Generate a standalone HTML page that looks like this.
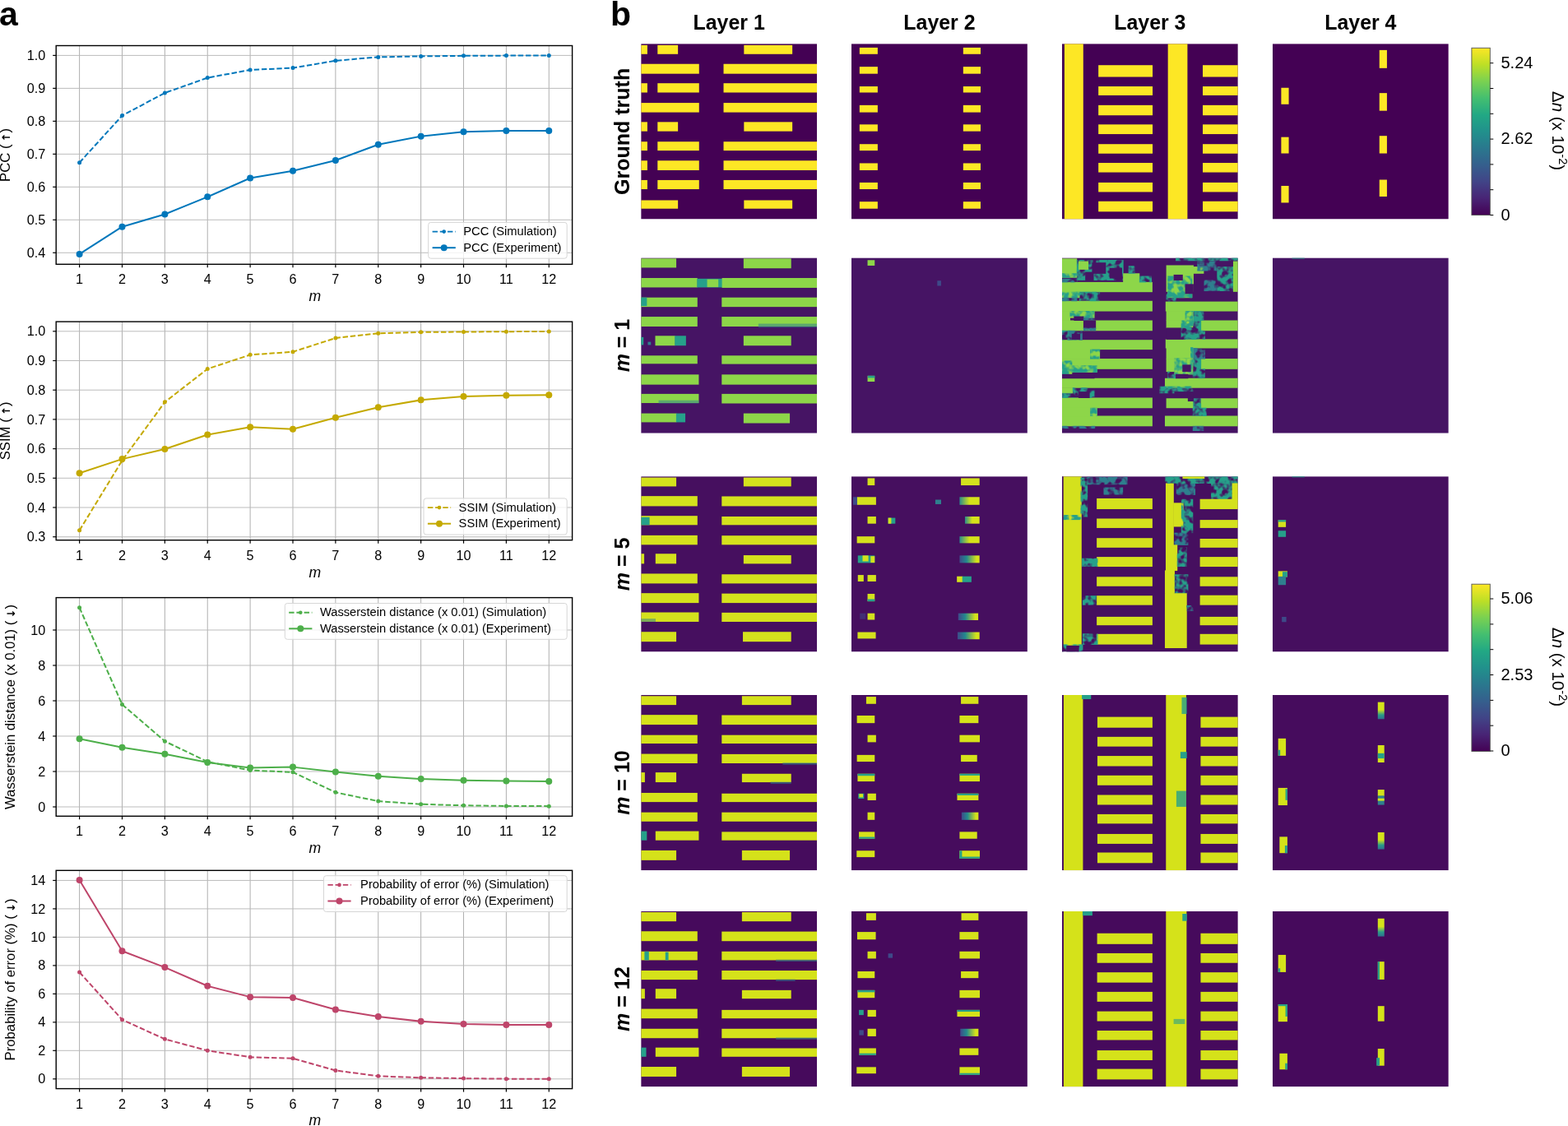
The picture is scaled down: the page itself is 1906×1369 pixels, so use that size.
<!DOCTYPE html><html><head><meta charset="utf-8"><title>Figure</title><style>
html,body{margin:0;padding:0;background:#fff;}
svg text{font-family:'Liberation Sans', sans-serif;fill:#000;}
.tick{font-size:16.2px;}
.leg{font-size:14.7px;}
.ylab{font-size:16.7px;}
.arr{font-family:"DejaVu Sans",sans-serif;font-size:13px;font-weight:bold;}
.mlab{font-size:17.6px;font-style:italic;}
.grid{stroke:#b8b8b8;stroke-width:0.95;}
.gridv{stroke:#acacac;stroke-width:0.95;}
.cbt{font-size:20px;}
.cbl{font-size:20.5px;}
.ttl{font-size:24.9px;font-weight:bold;}
.rowl{font-size:25px;font-weight:bold;}
.panel{font-size:41px;font-weight:bold;}
</style></head><body>
<svg width="1906" height="1369" viewBox="0 0 1906 1369" style="display:block">
<rect width="1906" height="1369" fill="#fff"/>
<defs><filter id="soft" x="-2%" y="-2%" width="104%" height="104%"><feGaussianBlur stdDeviation="3.2"/></filter><filter id="mottle" x="0" y="0" width="1" height="1" filterUnits="objectBoundingBox"><feTurbulence type="fractalNoise" baseFrequency="0.03" numOctaves="2" seed="7" result="n"/><feColorMatrix in="n" type="matrix" values="0 0 0 0 0  0 0 0 0 0  0 0 0 0 0  4 0 0 0 -1.3" result="m"/><feComposite in="SourceGraphic" in2="m" operator="in" result="c"/><feGaussianBlur in="c" stdDeviation="3"/></filter><linearGradient id="gTY" x1="0" y1="0" x2="1" y2="0"><stop offset="0" stop-color="#2a8c8d"/><stop offset="0.5" stop-color="#d5e21a"/><stop offset="1" stop-color="#d5e21a"/></linearGradient><linearGradient id="gBTY" x1="0" y1="0" x2="1" y2="0"><stop offset="0" stop-color="#3e4a89"/><stop offset="0.35" stop-color="#23898e"/><stop offset="0.85" stop-color="#d5e21a"/><stop offset="1" stop-color="#d5e21a"/></linearGradient><linearGradient id="gYTv" x1="0" y1="0" x2="0" y2="1"><stop offset="0" stop-color="#d5e21a"/><stop offset="0.45" stop-color="#d5e21a"/><stop offset="0.75" stop-color="#2a9c8a"/><stop offset="1" stop-color="#2f6f8e"/></linearGradient></defs>
<g>
<line x1="96.60" y1="55.50" x2="96.60" y2="321.30" class="gridv"/>
<line x1="148.48" y1="55.50" x2="148.48" y2="321.30" class="gridv"/>
<line x1="200.36" y1="55.50" x2="200.36" y2="321.30" class="gridv"/>
<line x1="252.24" y1="55.50" x2="252.24" y2="321.30" class="gridv"/>
<line x1="304.12" y1="55.50" x2="304.12" y2="321.30" class="gridv"/>
<line x1="356.00" y1="55.50" x2="356.00" y2="321.30" class="gridv"/>
<line x1="407.88" y1="55.50" x2="407.88" y2="321.30" class="gridv"/>
<line x1="459.76" y1="55.50" x2="459.76" y2="321.30" class="gridv"/>
<line x1="511.64" y1="55.50" x2="511.64" y2="321.30" class="gridv"/>
<line x1="563.52" y1="55.50" x2="563.52" y2="321.30" class="gridv"/>
<line x1="615.40" y1="55.50" x2="615.40" y2="321.30" class="gridv"/>
<line x1="667.28" y1="55.50" x2="667.28" y2="321.30" class="gridv"/>
<line x1="68.20" y1="67.40" x2="695.60" y2="67.40" class="grid"/>
<line x1="68.20" y1="107.38" x2="695.60" y2="107.38" class="grid"/>
<line x1="68.20" y1="147.36" x2="695.60" y2="147.36" class="grid"/>
<line x1="68.20" y1="187.34" x2="695.60" y2="187.34" class="grid"/>
<line x1="68.20" y1="227.32" x2="695.60" y2="227.32" class="grid"/>
<line x1="68.20" y1="267.30" x2="695.60" y2="267.30" class="grid"/>
<line x1="68.20" y1="307.28" x2="695.60" y2="307.28" class="grid"/>
<polyline points="96.60,197.73 148.48,140.56 200.36,112.98 252.24,94.59 304.12,84.99 356.00,82.59 407.88,73.80 459.76,69.40 511.64,68.40 563.52,67.80 615.40,67.60 667.28,67.60" fill="none" stroke="#0077BB" stroke-width="2.0" stroke-dasharray="6.4 2.8" stroke-linejoin="round"/>
<circle cx="96.60" cy="197.73" r="2.5" fill="#0077BB"/>
<circle cx="148.48" cy="140.56" r="2.5" fill="#0077BB"/>
<circle cx="200.36" cy="112.98" r="2.5" fill="#0077BB"/>
<circle cx="252.24" cy="94.59" r="2.5" fill="#0077BB"/>
<circle cx="304.12" cy="84.99" r="2.5" fill="#0077BB"/>
<circle cx="356.00" cy="82.59" r="2.5" fill="#0077BB"/>
<circle cx="407.88" cy="73.80" r="2.5" fill="#0077BB"/>
<circle cx="459.76" cy="69.40" r="2.5" fill="#0077BB"/>
<circle cx="511.64" cy="68.40" r="2.5" fill="#0077BB"/>
<circle cx="563.52" cy="67.80" r="2.5" fill="#0077BB"/>
<circle cx="615.40" cy="67.60" r="2.5" fill="#0077BB"/>
<circle cx="667.28" cy="67.60" r="2.5" fill="#0077BB"/>
<polyline points="96.60,308.88 148.48,275.70 200.36,260.50 252.24,239.31 304.12,216.53 356.00,207.73 407.88,194.94 459.76,175.75 511.64,165.75 563.52,160.15 615.40,158.95 667.28,158.95" fill="none" stroke="#0077BB" stroke-width="2" stroke-linejoin="round"/>
<circle cx="96.60" cy="308.88" r="4.0" fill="#0077BB"/>
<circle cx="148.48" cy="275.70" r="4.0" fill="#0077BB"/>
<circle cx="200.36" cy="260.50" r="4.0" fill="#0077BB"/>
<circle cx="252.24" cy="239.31" r="4.0" fill="#0077BB"/>
<circle cx="304.12" cy="216.53" r="4.0" fill="#0077BB"/>
<circle cx="356.00" cy="207.73" r="4.0" fill="#0077BB"/>
<circle cx="407.88" cy="194.94" r="4.0" fill="#0077BB"/>
<circle cx="459.76" cy="175.75" r="4.0" fill="#0077BB"/>
<circle cx="511.64" cy="165.75" r="4.0" fill="#0077BB"/>
<circle cx="563.52" cy="160.15" r="4.0" fill="#0077BB"/>
<circle cx="615.40" cy="158.95" r="4.0" fill="#0077BB"/>
<circle cx="667.28" cy="158.95" r="4.0" fill="#0077BB"/>
<rect x="68.20" y="55.50" width="627.40" height="265.80" fill="none" stroke="#000" stroke-width="1.4"/>
<line x1="64.20" y1="67.40" x2="68.20" y2="67.40" stroke="#000" stroke-width="1.2"/>
<text x="55.20" y="73.00" text-anchor="end" class="tick">1.0</text>
<line x1="64.20" y1="107.38" x2="68.20" y2="107.38" stroke="#000" stroke-width="1.2"/>
<text x="55.20" y="112.98" text-anchor="end" class="tick">0.9</text>
<line x1="64.20" y1="147.36" x2="68.20" y2="147.36" stroke="#000" stroke-width="1.2"/>
<text x="55.20" y="152.96" text-anchor="end" class="tick">0.8</text>
<line x1="64.20" y1="187.34" x2="68.20" y2="187.34" stroke="#000" stroke-width="1.2"/>
<text x="55.20" y="192.94" text-anchor="end" class="tick">0.7</text>
<line x1="64.20" y1="227.32" x2="68.20" y2="227.32" stroke="#000" stroke-width="1.2"/>
<text x="55.20" y="232.92" text-anchor="end" class="tick">0.6</text>
<line x1="64.20" y1="267.30" x2="68.20" y2="267.30" stroke="#000" stroke-width="1.2"/>
<text x="55.20" y="272.90" text-anchor="end" class="tick">0.5</text>
<line x1="64.20" y1="307.28" x2="68.20" y2="307.28" stroke="#000" stroke-width="1.2"/>
<text x="55.20" y="312.88" text-anchor="end" class="tick">0.4</text>
<line x1="96.60" y1="321.30" x2="96.60" y2="325.30" stroke="#000" stroke-width="1.2"/>
<text x="96.60" y="345.20" text-anchor="middle" class="tick">1</text>
<line x1="148.48" y1="321.30" x2="148.48" y2="325.30" stroke="#000" stroke-width="1.2"/>
<text x="148.48" y="345.20" text-anchor="middle" class="tick">2</text>
<line x1="200.36" y1="321.30" x2="200.36" y2="325.30" stroke="#000" stroke-width="1.2"/>
<text x="200.36" y="345.20" text-anchor="middle" class="tick">3</text>
<line x1="252.24" y1="321.30" x2="252.24" y2="325.30" stroke="#000" stroke-width="1.2"/>
<text x="252.24" y="345.20" text-anchor="middle" class="tick">4</text>
<line x1="304.12" y1="321.30" x2="304.12" y2="325.30" stroke="#000" stroke-width="1.2"/>
<text x="304.12" y="345.20" text-anchor="middle" class="tick">5</text>
<line x1="356.00" y1="321.30" x2="356.00" y2="325.30" stroke="#000" stroke-width="1.2"/>
<text x="356.00" y="345.20" text-anchor="middle" class="tick">6</text>
<line x1="407.88" y1="321.30" x2="407.88" y2="325.30" stroke="#000" stroke-width="1.2"/>
<text x="407.88" y="345.20" text-anchor="middle" class="tick">7</text>
<line x1="459.76" y1="321.30" x2="459.76" y2="325.30" stroke="#000" stroke-width="1.2"/>
<text x="459.76" y="345.20" text-anchor="middle" class="tick">8</text>
<line x1="511.64" y1="321.30" x2="511.64" y2="325.30" stroke="#000" stroke-width="1.2"/>
<text x="511.64" y="345.20" text-anchor="middle" class="tick">9</text>
<line x1="563.52" y1="321.30" x2="563.52" y2="325.30" stroke="#000" stroke-width="1.2"/>
<text x="563.52" y="345.20" text-anchor="middle" class="tick">10</text>
<line x1="615.40" y1="321.30" x2="615.40" y2="325.30" stroke="#000" stroke-width="1.2"/>
<text x="615.40" y="345.20" text-anchor="middle" class="tick">11</text>
<line x1="667.28" y1="321.30" x2="667.28" y2="325.30" stroke="#000" stroke-width="1.2"/>
<text x="667.28" y="345.20" text-anchor="middle" class="tick">12</text>
<text x="382.90" y="365.60" text-anchor="middle" class="mlab">m</text>
<text transform="translate(12.00,188.40) rotate(-90)" text-anchor="middle" class="ylab">PCC ( <tspan class="arr" dx="-1.2">↑</tspan><tspan dx="-4.8"> )</tspan></text>
<rect x="520.70" y="270.40" width="168.50" height="43.80" rx="3" fill="#fff" fill-opacity="0.8" stroke="#d6d6d6" stroke-width="1"/>
<line x1="525.60" y1="281.60" x2="553.80" y2="281.60" stroke="#0077BB" stroke-width="1.9" stroke-dasharray="6.4 2.8"/>
<circle cx="539.70" cy="281.60" r="2.3" fill="#0077BB"/>
<line x1="525.60" y1="301.20" x2="553.80" y2="301.20" stroke="#0077BB" stroke-width="2"/>
<circle cx="539.70" cy="301.20" r="4.0" fill="#0077BB"/>
<text x="563.30" y="286.00" class="leg">PCC (Simulation)</text>
<text x="563.30" y="305.60" class="leg">PCC (Experiment)</text>
</g>
<g>
<line x1="96.60" y1="391.10" x2="96.60" y2="656.70" class="gridv"/>
<line x1="148.48" y1="391.10" x2="148.48" y2="656.70" class="gridv"/>
<line x1="200.36" y1="391.10" x2="200.36" y2="656.70" class="gridv"/>
<line x1="252.24" y1="391.10" x2="252.24" y2="656.70" class="gridv"/>
<line x1="304.12" y1="391.10" x2="304.12" y2="656.70" class="gridv"/>
<line x1="356.00" y1="391.10" x2="356.00" y2="656.70" class="gridv"/>
<line x1="407.88" y1="391.10" x2="407.88" y2="656.70" class="gridv"/>
<line x1="459.76" y1="391.10" x2="459.76" y2="656.70" class="gridv"/>
<line x1="511.64" y1="391.10" x2="511.64" y2="656.70" class="gridv"/>
<line x1="563.52" y1="391.10" x2="563.52" y2="656.70" class="gridv"/>
<line x1="615.40" y1="391.10" x2="615.40" y2="656.70" class="gridv"/>
<line x1="667.28" y1="391.10" x2="667.28" y2="656.70" class="gridv"/>
<line x1="68.20" y1="402.80" x2="695.60" y2="402.80" class="grid"/>
<line x1="68.20" y1="438.50" x2="695.60" y2="438.50" class="grid"/>
<line x1="68.20" y1="474.20" x2="695.60" y2="474.20" class="grid"/>
<line x1="68.20" y1="509.90" x2="695.60" y2="509.90" class="grid"/>
<line x1="68.20" y1="545.60" x2="695.60" y2="545.60" class="grid"/>
<line x1="68.20" y1="581.30" x2="695.60" y2="581.30" class="grid"/>
<line x1="68.20" y1="617.00" x2="695.60" y2="617.00" class="grid"/>
<line x1="68.20" y1="652.70" x2="695.60" y2="652.70" class="grid"/>
<polyline points="96.60,644.85 148.48,559.88 200.36,488.84 252.24,448.50 304.12,431.36 356.00,427.79 407.88,411.01 459.76,405.30 511.64,403.87 563.52,403.51 615.40,403.16 667.28,402.98" fill="none" stroke="#C4A900" stroke-width="2.0" stroke-dasharray="6.4 2.8" stroke-linejoin="round"/>
<circle cx="96.60" cy="644.85" r="2.5" fill="#C4A900"/>
<circle cx="148.48" cy="559.88" r="2.5" fill="#C4A900"/>
<circle cx="200.36" cy="488.84" r="2.5" fill="#C4A900"/>
<circle cx="252.24" cy="448.50" r="2.5" fill="#C4A900"/>
<circle cx="304.12" cy="431.36" r="2.5" fill="#C4A900"/>
<circle cx="356.00" cy="427.79" r="2.5" fill="#C4A900"/>
<circle cx="407.88" cy="411.01" r="2.5" fill="#C4A900"/>
<circle cx="459.76" cy="405.30" r="2.5" fill="#C4A900"/>
<circle cx="511.64" cy="403.87" r="2.5" fill="#C4A900"/>
<circle cx="563.52" cy="403.51" r="2.5" fill="#C4A900"/>
<circle cx="615.40" cy="403.16" r="2.5" fill="#C4A900"/>
<circle cx="667.28" cy="402.98" r="2.5" fill="#C4A900"/>
<polyline points="96.60,575.23 148.48,558.10 200.36,545.96 252.24,528.46 304.12,519.18 356.00,521.68 407.88,507.76 459.76,495.26 511.64,486.34 563.52,482.05 615.40,480.63 667.28,480.27" fill="none" stroke="#C4A900" stroke-width="2" stroke-linejoin="round"/>
<circle cx="96.60" cy="575.23" r="4.0" fill="#C4A900"/>
<circle cx="148.48" cy="558.10" r="4.0" fill="#C4A900"/>
<circle cx="200.36" cy="545.96" r="4.0" fill="#C4A900"/>
<circle cx="252.24" cy="528.46" r="4.0" fill="#C4A900"/>
<circle cx="304.12" cy="519.18" r="4.0" fill="#C4A900"/>
<circle cx="356.00" cy="521.68" r="4.0" fill="#C4A900"/>
<circle cx="407.88" cy="507.76" r="4.0" fill="#C4A900"/>
<circle cx="459.76" cy="495.26" r="4.0" fill="#C4A900"/>
<circle cx="511.64" cy="486.34" r="4.0" fill="#C4A900"/>
<circle cx="563.52" cy="482.05" r="4.0" fill="#C4A900"/>
<circle cx="615.40" cy="480.63" r="4.0" fill="#C4A900"/>
<circle cx="667.28" cy="480.27" r="4.0" fill="#C4A900"/>
<rect x="68.20" y="391.10" width="627.40" height="265.60" fill="none" stroke="#000" stroke-width="1.4"/>
<line x1="64.20" y1="402.80" x2="68.20" y2="402.80" stroke="#000" stroke-width="1.2"/>
<text x="55.20" y="408.40" text-anchor="end" class="tick">1.0</text>
<line x1="64.20" y1="438.50" x2="68.20" y2="438.50" stroke="#000" stroke-width="1.2"/>
<text x="55.20" y="444.10" text-anchor="end" class="tick">0.9</text>
<line x1="64.20" y1="474.20" x2="68.20" y2="474.20" stroke="#000" stroke-width="1.2"/>
<text x="55.20" y="479.80" text-anchor="end" class="tick">0.8</text>
<line x1="64.20" y1="509.90" x2="68.20" y2="509.90" stroke="#000" stroke-width="1.2"/>
<text x="55.20" y="515.50" text-anchor="end" class="tick">0.7</text>
<line x1="64.20" y1="545.60" x2="68.20" y2="545.60" stroke="#000" stroke-width="1.2"/>
<text x="55.20" y="551.20" text-anchor="end" class="tick">0.6</text>
<line x1="64.20" y1="581.30" x2="68.20" y2="581.30" stroke="#000" stroke-width="1.2"/>
<text x="55.20" y="586.90" text-anchor="end" class="tick">0.5</text>
<line x1="64.20" y1="617.00" x2="68.20" y2="617.00" stroke="#000" stroke-width="1.2"/>
<text x="55.20" y="622.60" text-anchor="end" class="tick">0.4</text>
<line x1="64.20" y1="652.70" x2="68.20" y2="652.70" stroke="#000" stroke-width="1.2"/>
<text x="55.20" y="658.30" text-anchor="end" class="tick">0.3</text>
<line x1="96.60" y1="656.70" x2="96.60" y2="660.70" stroke="#000" stroke-width="1.2"/>
<text x="96.60" y="680.60" text-anchor="middle" class="tick">1</text>
<line x1="148.48" y1="656.70" x2="148.48" y2="660.70" stroke="#000" stroke-width="1.2"/>
<text x="148.48" y="680.60" text-anchor="middle" class="tick">2</text>
<line x1="200.36" y1="656.70" x2="200.36" y2="660.70" stroke="#000" stroke-width="1.2"/>
<text x="200.36" y="680.60" text-anchor="middle" class="tick">3</text>
<line x1="252.24" y1="656.70" x2="252.24" y2="660.70" stroke="#000" stroke-width="1.2"/>
<text x="252.24" y="680.60" text-anchor="middle" class="tick">4</text>
<line x1="304.12" y1="656.70" x2="304.12" y2="660.70" stroke="#000" stroke-width="1.2"/>
<text x="304.12" y="680.60" text-anchor="middle" class="tick">5</text>
<line x1="356.00" y1="656.70" x2="356.00" y2="660.70" stroke="#000" stroke-width="1.2"/>
<text x="356.00" y="680.60" text-anchor="middle" class="tick">6</text>
<line x1="407.88" y1="656.70" x2="407.88" y2="660.70" stroke="#000" stroke-width="1.2"/>
<text x="407.88" y="680.60" text-anchor="middle" class="tick">7</text>
<line x1="459.76" y1="656.70" x2="459.76" y2="660.70" stroke="#000" stroke-width="1.2"/>
<text x="459.76" y="680.60" text-anchor="middle" class="tick">8</text>
<line x1="511.64" y1="656.70" x2="511.64" y2="660.70" stroke="#000" stroke-width="1.2"/>
<text x="511.64" y="680.60" text-anchor="middle" class="tick">9</text>
<line x1="563.52" y1="656.70" x2="563.52" y2="660.70" stroke="#000" stroke-width="1.2"/>
<text x="563.52" y="680.60" text-anchor="middle" class="tick">10</text>
<line x1="615.40" y1="656.70" x2="615.40" y2="660.70" stroke="#000" stroke-width="1.2"/>
<text x="615.40" y="680.60" text-anchor="middle" class="tick">11</text>
<line x1="667.28" y1="656.70" x2="667.28" y2="660.70" stroke="#000" stroke-width="1.2"/>
<text x="667.28" y="680.60" text-anchor="middle" class="tick">12</text>
<text x="382.90" y="701.60" text-anchor="middle" class="mlab">m</text>
<text transform="translate(12.00,523.90) rotate(-90)" text-anchor="middle" class="ylab">SSIM ( <tspan class="arr" dx="-1.2">↑</tspan><tspan dx="-4.8"> )</tspan></text>
<rect x="515.00" y="605.90" width="174.20" height="44.10" rx="3" fill="#fff" fill-opacity="0.8" stroke="#d6d6d6" stroke-width="1"/>
<line x1="519.90" y1="617.10" x2="548.10" y2="617.10" stroke="#C4A900" stroke-width="1.9" stroke-dasharray="6.4 2.8"/>
<circle cx="534.00" cy="617.10" r="2.3" fill="#C4A900"/>
<line x1="519.90" y1="636.70" x2="548.10" y2="636.70" stroke="#C4A900" stroke-width="2"/>
<circle cx="534.00" cy="636.70" r="4.0" fill="#C4A900"/>
<text x="557.60" y="621.50" class="leg">SSIM (Simulation)</text>
<text x="557.60" y="641.10" class="leg">SSIM (Experiment)</text>
</g>
<g>
<line x1="96.60" y1="726.60" x2="96.60" y2="992.30" class="gridv"/>
<line x1="148.48" y1="726.60" x2="148.48" y2="992.30" class="gridv"/>
<line x1="200.36" y1="726.60" x2="200.36" y2="992.30" class="gridv"/>
<line x1="252.24" y1="726.60" x2="252.24" y2="992.30" class="gridv"/>
<line x1="304.12" y1="726.60" x2="304.12" y2="992.30" class="gridv"/>
<line x1="356.00" y1="726.60" x2="356.00" y2="992.30" class="gridv"/>
<line x1="407.88" y1="726.60" x2="407.88" y2="992.30" class="gridv"/>
<line x1="459.76" y1="726.60" x2="459.76" y2="992.30" class="gridv"/>
<line x1="511.64" y1="726.60" x2="511.64" y2="992.30" class="gridv"/>
<line x1="563.52" y1="726.60" x2="563.52" y2="992.30" class="gridv"/>
<line x1="615.40" y1="726.60" x2="615.40" y2="992.30" class="gridv"/>
<line x1="667.28" y1="726.60" x2="667.28" y2="992.30" class="gridv"/>
<line x1="68.20" y1="766.00" x2="695.60" y2="766.00" class="grid"/>
<line x1="68.20" y1="809.00" x2="695.60" y2="809.00" class="grid"/>
<line x1="68.20" y1="852.00" x2="695.60" y2="852.00" class="grid"/>
<line x1="68.20" y1="895.00" x2="695.60" y2="895.00" class="grid"/>
<line x1="68.20" y1="938.00" x2="695.60" y2="938.00" class="grid"/>
<line x1="68.20" y1="981.00" x2="695.60" y2="981.00" class="grid"/>
<polyline points="96.60,738.70 148.48,856.51 200.36,901.24 252.24,926.17 304.12,936.50 356.00,938.86 407.88,963.37 459.76,974.12 511.64,977.77 563.52,979.28 615.40,979.92 667.28,980.14" fill="none" stroke="#4DAF4A" stroke-width="2.0" stroke-dasharray="6.4 2.8" stroke-linejoin="round"/>
<circle cx="96.60" cy="738.70" r="2.5" fill="#4DAF4A"/>
<circle cx="148.48" cy="856.51" r="2.5" fill="#4DAF4A"/>
<circle cx="200.36" cy="901.24" r="2.5" fill="#4DAF4A"/>
<circle cx="252.24" cy="926.17" r="2.5" fill="#4DAF4A"/>
<circle cx="304.12" cy="936.50" r="2.5" fill="#4DAF4A"/>
<circle cx="356.00" cy="938.86" r="2.5" fill="#4DAF4A"/>
<circle cx="407.88" cy="963.37" r="2.5" fill="#4DAF4A"/>
<circle cx="459.76" cy="974.12" r="2.5" fill="#4DAF4A"/>
<circle cx="511.64" cy="977.77" r="2.5" fill="#4DAF4A"/>
<circle cx="563.52" cy="979.28" r="2.5" fill="#4DAF4A"/>
<circle cx="615.40" cy="979.92" r="2.5" fill="#4DAF4A"/>
<circle cx="667.28" cy="980.14" r="2.5" fill="#4DAF4A"/>
<polyline points="96.60,898.23 148.48,908.76 200.36,916.72 252.24,927.03 304.12,933.49 356.00,932.62 407.88,938.43 459.76,943.80 511.64,947.03 563.52,948.75 615.40,949.39 667.28,950.04" fill="none" stroke="#4DAF4A" stroke-width="2" stroke-linejoin="round"/>
<circle cx="96.60" cy="898.23" r="4.0" fill="#4DAF4A"/>
<circle cx="148.48" cy="908.76" r="4.0" fill="#4DAF4A"/>
<circle cx="200.36" cy="916.72" r="4.0" fill="#4DAF4A"/>
<circle cx="252.24" cy="927.03" r="4.0" fill="#4DAF4A"/>
<circle cx="304.12" cy="933.49" r="4.0" fill="#4DAF4A"/>
<circle cx="356.00" cy="932.62" r="4.0" fill="#4DAF4A"/>
<circle cx="407.88" cy="938.43" r="4.0" fill="#4DAF4A"/>
<circle cx="459.76" cy="943.80" r="4.0" fill="#4DAF4A"/>
<circle cx="511.64" cy="947.03" r="4.0" fill="#4DAF4A"/>
<circle cx="563.52" cy="948.75" r="4.0" fill="#4DAF4A"/>
<circle cx="615.40" cy="949.39" r="4.0" fill="#4DAF4A"/>
<circle cx="667.28" cy="950.04" r="4.0" fill="#4DAF4A"/>
<rect x="68.20" y="726.60" width="627.40" height="265.70" fill="none" stroke="#000" stroke-width="1.4"/>
<line x1="64.20" y1="766.00" x2="68.20" y2="766.00" stroke="#000" stroke-width="1.2"/>
<text x="55.20" y="771.60" text-anchor="end" class="tick">10</text>
<line x1="64.20" y1="809.00" x2="68.20" y2="809.00" stroke="#000" stroke-width="1.2"/>
<text x="55.20" y="814.60" text-anchor="end" class="tick">8</text>
<line x1="64.20" y1="852.00" x2="68.20" y2="852.00" stroke="#000" stroke-width="1.2"/>
<text x="55.20" y="857.60" text-anchor="end" class="tick">6</text>
<line x1="64.20" y1="895.00" x2="68.20" y2="895.00" stroke="#000" stroke-width="1.2"/>
<text x="55.20" y="900.60" text-anchor="end" class="tick">4</text>
<line x1="64.20" y1="938.00" x2="68.20" y2="938.00" stroke="#000" stroke-width="1.2"/>
<text x="55.20" y="943.60" text-anchor="end" class="tick">2</text>
<line x1="64.20" y1="981.00" x2="68.20" y2="981.00" stroke="#000" stroke-width="1.2"/>
<text x="55.20" y="986.60" text-anchor="end" class="tick">0</text>
<line x1="96.60" y1="992.30" x2="96.60" y2="996.30" stroke="#000" stroke-width="1.2"/>
<text x="96.60" y="1016.20" text-anchor="middle" class="tick">1</text>
<line x1="148.48" y1="992.30" x2="148.48" y2="996.30" stroke="#000" stroke-width="1.2"/>
<text x="148.48" y="1016.20" text-anchor="middle" class="tick">2</text>
<line x1="200.36" y1="992.30" x2="200.36" y2="996.30" stroke="#000" stroke-width="1.2"/>
<text x="200.36" y="1016.20" text-anchor="middle" class="tick">3</text>
<line x1="252.24" y1="992.30" x2="252.24" y2="996.30" stroke="#000" stroke-width="1.2"/>
<text x="252.24" y="1016.20" text-anchor="middle" class="tick">4</text>
<line x1="304.12" y1="992.30" x2="304.12" y2="996.30" stroke="#000" stroke-width="1.2"/>
<text x="304.12" y="1016.20" text-anchor="middle" class="tick">5</text>
<line x1="356.00" y1="992.30" x2="356.00" y2="996.30" stroke="#000" stroke-width="1.2"/>
<text x="356.00" y="1016.20" text-anchor="middle" class="tick">6</text>
<line x1="407.88" y1="992.30" x2="407.88" y2="996.30" stroke="#000" stroke-width="1.2"/>
<text x="407.88" y="1016.20" text-anchor="middle" class="tick">7</text>
<line x1="459.76" y1="992.30" x2="459.76" y2="996.30" stroke="#000" stroke-width="1.2"/>
<text x="459.76" y="1016.20" text-anchor="middle" class="tick">8</text>
<line x1="511.64" y1="992.30" x2="511.64" y2="996.30" stroke="#000" stroke-width="1.2"/>
<text x="511.64" y="1016.20" text-anchor="middle" class="tick">9</text>
<line x1="563.52" y1="992.30" x2="563.52" y2="996.30" stroke="#000" stroke-width="1.2"/>
<text x="563.52" y="1016.20" text-anchor="middle" class="tick">10</text>
<line x1="615.40" y1="992.30" x2="615.40" y2="996.30" stroke="#000" stroke-width="1.2"/>
<text x="615.40" y="1016.20" text-anchor="middle" class="tick">11</text>
<line x1="667.28" y1="992.30" x2="667.28" y2="996.30" stroke="#000" stroke-width="1.2"/>
<text x="667.28" y="1016.20" text-anchor="middle" class="tick">12</text>
<text x="382.90" y="1037.40" text-anchor="middle" class="mlab">m</text>
<text transform="translate(17.60,859.45) rotate(-90)" text-anchor="middle" class="ylab">Wasserstein distance (x 0.01) ( <tspan class="arr" dx="-1.2">↓</tspan><tspan dx="-4.8"> )</tspan></text>
<rect x="346.30" y="733.50" width="342.90" height="43.80" rx="3" fill="#fff" fill-opacity="0.8" stroke="#d6d6d6" stroke-width="1"/>
<line x1="351.20" y1="744.70" x2="379.40" y2="744.70" stroke="#4DAF4A" stroke-width="1.9" stroke-dasharray="6.4 2.8"/>
<circle cx="365.30" cy="744.70" r="2.3" fill="#4DAF4A"/>
<line x1="351.20" y1="764.30" x2="379.40" y2="764.30" stroke="#4DAF4A" stroke-width="2"/>
<circle cx="365.30" cy="764.30" r="4.0" fill="#4DAF4A"/>
<text x="388.90" y="749.10" class="leg">Wasserstein distance (x 0.01) (Simulation)</text>
<text x="388.90" y="768.70" class="leg">Wasserstein distance (x 0.01) (Experiment)</text>
</g>
<g>
<line x1="96.60" y1="1058.30" x2="96.60" y2="1323.60" class="gridv"/>
<line x1="148.48" y1="1058.30" x2="148.48" y2="1323.60" class="gridv"/>
<line x1="200.36" y1="1058.30" x2="200.36" y2="1323.60" class="gridv"/>
<line x1="252.24" y1="1058.30" x2="252.24" y2="1323.60" class="gridv"/>
<line x1="304.12" y1="1058.30" x2="304.12" y2="1323.60" class="gridv"/>
<line x1="356.00" y1="1058.30" x2="356.00" y2="1323.60" class="gridv"/>
<line x1="407.88" y1="1058.30" x2="407.88" y2="1323.60" class="gridv"/>
<line x1="459.76" y1="1058.30" x2="459.76" y2="1323.60" class="gridv"/>
<line x1="511.64" y1="1058.30" x2="511.64" y2="1323.60" class="gridv"/>
<line x1="563.52" y1="1058.30" x2="563.52" y2="1323.60" class="gridv"/>
<line x1="615.40" y1="1058.30" x2="615.40" y2="1323.60" class="gridv"/>
<line x1="667.28" y1="1058.30" x2="667.28" y2="1323.60" class="gridv"/>
<line x1="68.20" y1="1070.44" x2="695.60" y2="1070.44" class="grid"/>
<line x1="68.20" y1="1104.92" x2="695.60" y2="1104.92" class="grid"/>
<line x1="68.20" y1="1139.40" x2="695.60" y2="1139.40" class="grid"/>
<line x1="68.20" y1="1173.88" x2="695.60" y2="1173.88" class="grid"/>
<line x1="68.20" y1="1208.36" x2="695.60" y2="1208.36" class="grid"/>
<line x1="68.20" y1="1242.84" x2="695.60" y2="1242.84" class="grid"/>
<line x1="68.20" y1="1277.32" x2="695.60" y2="1277.32" class="grid"/>
<line x1="68.20" y1="1311.80" x2="695.60" y2="1311.80" class="grid"/>
<polyline points="96.60,1181.98 148.48,1239.74 200.36,1263.36 252.24,1277.32 304.12,1285.25 356.00,1286.80 407.88,1301.46 459.76,1308.35 511.64,1310.25 563.52,1311.11 615.40,1311.63 667.28,1311.63" fill="none" stroke="#BE456A" stroke-width="2.0" stroke-dasharray="6.4 2.8" stroke-linejoin="round"/>
<circle cx="96.60" cy="1181.98" r="2.5" fill="#BE456A"/>
<circle cx="148.48" cy="1239.74" r="2.5" fill="#BE456A"/>
<circle cx="200.36" cy="1263.36" r="2.5" fill="#BE456A"/>
<circle cx="252.24" cy="1277.32" r="2.5" fill="#BE456A"/>
<circle cx="304.12" cy="1285.25" r="2.5" fill="#BE456A"/>
<circle cx="356.00" cy="1286.80" r="2.5" fill="#BE456A"/>
<circle cx="407.88" cy="1301.46" r="2.5" fill="#BE456A"/>
<circle cx="459.76" cy="1308.35" r="2.5" fill="#BE456A"/>
<circle cx="511.64" cy="1310.25" r="2.5" fill="#BE456A"/>
<circle cx="563.52" cy="1311.11" r="2.5" fill="#BE456A"/>
<circle cx="615.40" cy="1311.63" r="2.5" fill="#BE456A"/>
<circle cx="667.28" cy="1311.63" r="2.5" fill="#BE456A"/>
<polyline points="96.60,1070.10 148.48,1156.30 200.36,1176.12 252.24,1198.71 304.12,1212.15 356.00,1213.01 407.88,1227.50 459.76,1235.94 511.64,1241.81 563.52,1244.91 615.40,1245.94 667.28,1245.94" fill="none" stroke="#BE456A" stroke-width="2" stroke-linejoin="round"/>
<circle cx="96.60" cy="1070.10" r="4.0" fill="#BE456A"/>
<circle cx="148.48" cy="1156.30" r="4.0" fill="#BE456A"/>
<circle cx="200.36" cy="1176.12" r="4.0" fill="#BE456A"/>
<circle cx="252.24" cy="1198.71" r="4.0" fill="#BE456A"/>
<circle cx="304.12" cy="1212.15" r="4.0" fill="#BE456A"/>
<circle cx="356.00" cy="1213.01" r="4.0" fill="#BE456A"/>
<circle cx="407.88" cy="1227.50" r="4.0" fill="#BE456A"/>
<circle cx="459.76" cy="1235.94" r="4.0" fill="#BE456A"/>
<circle cx="511.64" cy="1241.81" r="4.0" fill="#BE456A"/>
<circle cx="563.52" cy="1244.91" r="4.0" fill="#BE456A"/>
<circle cx="615.40" cy="1245.94" r="4.0" fill="#BE456A"/>
<circle cx="667.28" cy="1245.94" r="4.0" fill="#BE456A"/>
<rect x="68.20" y="1058.30" width="627.40" height="265.30" fill="none" stroke="#000" stroke-width="1.4"/>
<line x1="64.20" y1="1070.44" x2="68.20" y2="1070.44" stroke="#000" stroke-width="1.2"/>
<text x="55.20" y="1076.04" text-anchor="end" class="tick">14</text>
<line x1="64.20" y1="1104.92" x2="68.20" y2="1104.92" stroke="#000" stroke-width="1.2"/>
<text x="55.20" y="1110.52" text-anchor="end" class="tick">12</text>
<line x1="64.20" y1="1139.40" x2="68.20" y2="1139.40" stroke="#000" stroke-width="1.2"/>
<text x="55.20" y="1145.00" text-anchor="end" class="tick">10</text>
<line x1="64.20" y1="1173.88" x2="68.20" y2="1173.88" stroke="#000" stroke-width="1.2"/>
<text x="55.20" y="1179.48" text-anchor="end" class="tick">8</text>
<line x1="64.20" y1="1208.36" x2="68.20" y2="1208.36" stroke="#000" stroke-width="1.2"/>
<text x="55.20" y="1213.96" text-anchor="end" class="tick">6</text>
<line x1="64.20" y1="1242.84" x2="68.20" y2="1242.84" stroke="#000" stroke-width="1.2"/>
<text x="55.20" y="1248.44" text-anchor="end" class="tick">4</text>
<line x1="64.20" y1="1277.32" x2="68.20" y2="1277.32" stroke="#000" stroke-width="1.2"/>
<text x="55.20" y="1282.92" text-anchor="end" class="tick">2</text>
<line x1="64.20" y1="1311.80" x2="68.20" y2="1311.80" stroke="#000" stroke-width="1.2"/>
<text x="55.20" y="1317.40" text-anchor="end" class="tick">0</text>
<line x1="96.60" y1="1323.60" x2="96.60" y2="1327.60" stroke="#000" stroke-width="1.2"/>
<text x="96.60" y="1347.50" text-anchor="middle" class="tick">1</text>
<line x1="148.48" y1="1323.60" x2="148.48" y2="1327.60" stroke="#000" stroke-width="1.2"/>
<text x="148.48" y="1347.50" text-anchor="middle" class="tick">2</text>
<line x1="200.36" y1="1323.60" x2="200.36" y2="1327.60" stroke="#000" stroke-width="1.2"/>
<text x="200.36" y="1347.50" text-anchor="middle" class="tick">3</text>
<line x1="252.24" y1="1323.60" x2="252.24" y2="1327.60" stroke="#000" stroke-width="1.2"/>
<text x="252.24" y="1347.50" text-anchor="middle" class="tick">4</text>
<line x1="304.12" y1="1323.60" x2="304.12" y2="1327.60" stroke="#000" stroke-width="1.2"/>
<text x="304.12" y="1347.50" text-anchor="middle" class="tick">5</text>
<line x1="356.00" y1="1323.60" x2="356.00" y2="1327.60" stroke="#000" stroke-width="1.2"/>
<text x="356.00" y="1347.50" text-anchor="middle" class="tick">6</text>
<line x1="407.88" y1="1323.60" x2="407.88" y2="1327.60" stroke="#000" stroke-width="1.2"/>
<text x="407.88" y="1347.50" text-anchor="middle" class="tick">7</text>
<line x1="459.76" y1="1323.60" x2="459.76" y2="1327.60" stroke="#000" stroke-width="1.2"/>
<text x="459.76" y="1347.50" text-anchor="middle" class="tick">8</text>
<line x1="511.64" y1="1323.60" x2="511.64" y2="1327.60" stroke="#000" stroke-width="1.2"/>
<text x="511.64" y="1347.50" text-anchor="middle" class="tick">9</text>
<line x1="563.52" y1="1323.60" x2="563.52" y2="1327.60" stroke="#000" stroke-width="1.2"/>
<text x="563.52" y="1347.50" text-anchor="middle" class="tick">10</text>
<line x1="615.40" y1="1323.60" x2="615.40" y2="1327.60" stroke="#000" stroke-width="1.2"/>
<text x="615.40" y="1347.50" text-anchor="middle" class="tick">11</text>
<line x1="667.28" y1="1323.60" x2="667.28" y2="1327.60" stroke="#000" stroke-width="1.2"/>
<text x="667.28" y="1347.50" text-anchor="middle" class="tick">12</text>
<text x="382.90" y="1368.30" text-anchor="middle" class="mlab">m</text>
<text transform="translate(17.60,1190.95) rotate(-90)" text-anchor="middle" class="ylab">Probability of error (%) ( <tspan class="arr" dx="-1.2">↓</tspan><tspan dx="-4.8"> )</tspan></text>
<rect x="393.50" y="1064.70" width="295.70" height="43.80" rx="3" fill="#fff" fill-opacity="0.8" stroke="#d6d6d6" stroke-width="1"/>
<line x1="398.40" y1="1075.90" x2="426.60" y2="1075.90" stroke="#BE456A" stroke-width="1.9" stroke-dasharray="6.4 2.8"/>
<circle cx="412.50" cy="1075.90" r="2.3" fill="#BE456A"/>
<line x1="398.40" y1="1095.50" x2="426.60" y2="1095.50" stroke="#BE456A" stroke-width="2"/>
<circle cx="412.50" cy="1095.50" r="4.0" fill="#BE456A"/>
<text x="438.10" y="1080.30" class="leg">Probability of error (%) (Simulation)</text>
<text x="438.10" y="1099.90" class="leg">Probability of error (%) (Experiment)</text>
</g>
<text x="-1" y="31" class="panel">a</text>
<text x="742" y="31" class="panel">b</text>
<text x="886.15" y="36.4" text-anchor="middle" class="ttl">Layer 1</text>
<text x="1141.95" y="36.4" text-anchor="middle" class="ttl">Layer 2</text>
<text x="1397.85" y="36.4" text-anchor="middle" class="ttl">Layer 3</text>
<text x="1653.85" y="36.4" text-anchor="middle" class="ttl">Layer 4</text>
<text transform="translate(764.5,159.85) rotate(-90)" text-anchor="middle" class="rowl">Ground truth</text>
<text transform="translate(764.5,420.05) rotate(-90)" text-anchor="middle" class="rowl"><tspan font-style="italic">m</tspan> = 1</text>
<text transform="translate(764.5,685.85) rotate(-90)" text-anchor="middle" class="rowl"><tspan font-style="italic">m</tspan> = 5</text>
<text transform="translate(764.5,951.55) rotate(-90)" text-anchor="middle" class="rowl"><tspan font-style="italic">m</tspan> = 10</text>
<text transform="translate(764.5,1214.65) rotate(-90)" text-anchor="middle" class="rowl"><tspan font-style="italic">m</tspan> = 12</text>
<svg x="779.20" y="53.20" width="213.90" height="213.30" viewBox="0 0 1000 1000" preserveAspectRatio="none">
<rect width="1000" height="1000" fill="#440154"/>
<rect x="0.0" y="8.0" width="36.0" height="51.0" fill="#fde725"/>
<rect x="94.0" y="8.0" width="116.0" height="51.0" fill="#fde725"/>
<rect x="585.0" y="8.0" width="275.0" height="51.0" fill="#fde725"/>
<rect x="0.0" y="115.0" width="330.0" height="56.0" fill="#fde725"/>
<rect x="469.0" y="115.0" width="531.0" height="56.0" fill="#fde725"/>
<rect x="0.0" y="225.0" width="36.0" height="53.0" fill="#fde725"/>
<rect x="94.0" y="225.0" width="236.0" height="53.0" fill="#fde725"/>
<rect x="469.0" y="225.0" width="531.0" height="53.0" fill="#fde725"/>
<rect x="0.0" y="337.0" width="330.0" height="54.0" fill="#fde725"/>
<rect x="469.0" y="337.0" width="531.0" height="54.0" fill="#fde725"/>
<rect x="0.0" y="446.0" width="36.0" height="53.0" fill="#fde725"/>
<rect x="94.0" y="446.0" width="116.0" height="53.0" fill="#fde725"/>
<rect x="585.0" y="446.0" width="275.0" height="53.0" fill="#fde725"/>
<rect x="0.0" y="558.0" width="36.0" height="51.0" fill="#fde725"/>
<rect x="94.0" y="558.0" width="236.0" height="51.0" fill="#fde725"/>
<rect x="469.0" y="558.0" width="531.0" height="51.0" fill="#fde725"/>
<rect x="0.0" y="666.0" width="36.0" height="55.0" fill="#fde725"/>
<rect x="94.0" y="666.0" width="236.0" height="55.0" fill="#fde725"/>
<rect x="469.0" y="666.0" width="531.0" height="55.0" fill="#fde725"/>
<rect x="0.0" y="777.0" width="36.0" height="52.0" fill="#fde725"/>
<rect x="94.0" y="777.0" width="236.0" height="52.0" fill="#fde725"/>
<rect x="469.0" y="777.0" width="531.0" height="52.0" fill="#fde725"/>
<rect x="0.0" y="892.0" width="210.0" height="48.0" fill="#fde725"/>
<rect x="585.0" y="892.0" width="275.0" height="48.0" fill="#fde725"/>
</svg>
<svg x="1035.00" y="53.20" width="213.90" height="213.30" viewBox="0 0 1000 1000" preserveAspectRatio="none">
<rect width="1000" height="1000" fill="#440154"/>
<rect x="46.0" y="22.0" width="103.0" height="37.0" fill="#fde725"/>
<rect x="635.0" y="22.0" width="99.0" height="37.0" fill="#fde725"/>
<rect x="46.0" y="131.0" width="103.0" height="40.0" fill="#fde725"/>
<rect x="635.0" y="131.0" width="99.0" height="40.0" fill="#fde725"/>
<rect x="46.0" y="243.0" width="103.0" height="35.0" fill="#fde725"/>
<rect x="635.0" y="243.0" width="99.0" height="35.0" fill="#fde725"/>
<rect x="46.0" y="350.0" width="103.0" height="41.0" fill="#fde725"/>
<rect x="635.0" y="350.0" width="99.0" height="41.0" fill="#fde725"/>
<rect x="46.0" y="460.0" width="103.0" height="39.0" fill="#fde725"/>
<rect x="635.0" y="460.0" width="99.0" height="39.0" fill="#fde725"/>
<rect x="46.0" y="572.0" width="103.0" height="37.0" fill="#fde725"/>
<rect x="635.0" y="572.0" width="99.0" height="37.0" fill="#fde725"/>
<rect x="46.0" y="681.0" width="103.0" height="40.0" fill="#fde725"/>
<rect x="635.0" y="681.0" width="99.0" height="40.0" fill="#fde725"/>
<rect x="46.0" y="791.0" width="103.0" height="38.0" fill="#fde725"/>
<rect x="635.0" y="791.0" width="99.0" height="38.0" fill="#fde725"/>
<rect x="46.0" y="900.0" width="103.0" height="40.0" fill="#fde725"/>
<rect x="635.0" y="900.0" width="99.0" height="40.0" fill="#fde725"/>
</svg>
<svg x="1290.90" y="53.20" width="213.90" height="213.30" viewBox="0 0 1000 1000" preserveAspectRatio="none">
<rect width="1000" height="1000" fill="#440154"/>
<rect x="14.0" y="0.0" width="107.0" height="1000.0" fill="#fde725"/>
<rect x="602.0" y="0.0" width="111.0" height="1000.0" fill="#fde725"/>
<rect x="207.0" y="122.0" width="308.0" height="67.0" fill="#fde725"/>
<rect x="800.0" y="122.0" width="200.0" height="67.0" fill="#fde725"/>
<rect x="207.0" y="243.0" width="308.0" height="51.0" fill="#fde725"/>
<rect x="800.0" y="243.0" width="200.0" height="51.0" fill="#fde725"/>
<rect x="207.0" y="350.0" width="308.0" height="58.0" fill="#fde725"/>
<rect x="800.0" y="350.0" width="200.0" height="58.0" fill="#fde725"/>
<rect x="207.0" y="460.0" width="308.0" height="55.0" fill="#fde725"/>
<rect x="800.0" y="460.0" width="200.0" height="55.0" fill="#fde725"/>
<rect x="207.0" y="572.0" width="308.0" height="54.0" fill="#fde725"/>
<rect x="800.0" y="572.0" width="200.0" height="54.0" fill="#fde725"/>
<rect x="207.0" y="679.0" width="308.0" height="54.0" fill="#fde725"/>
<rect x="800.0" y="679.0" width="200.0" height="54.0" fill="#fde725"/>
<rect x="207.0" y="791.0" width="308.0" height="54.0" fill="#fde725"/>
<rect x="800.0" y="791.0" width="200.0" height="54.0" fill="#fde725"/>
<rect x="207.0" y="898.0" width="308.0" height="59.0" fill="#fde725"/>
<rect x="800.0" y="898.0" width="200.0" height="59.0" fill="#fde725"/>
</svg>
<svg x="1546.90" y="53.20" width="213.90" height="213.30" viewBox="0 0 1000 1000" preserveAspectRatio="none">
<rect width="1000" height="1000" fill="#440154"/>
<rect x="49.0" y="251.0" width="43.0" height="94.0" fill="#fde725"/>
<rect x="49.0" y="532.0" width="43.0" height="93.0" fill="#fde725"/>
<rect x="49.0" y="810.0" width="43.0" height="96.0" fill="#fde725"/>
<rect x="607.0" y="36.0" width="43.0" height="103.0" fill="#fde725"/>
<rect x="607.0" y="281.0" width="43.0" height="101.0" fill="#fde725"/>
<rect x="607.0" y="525.0" width="43.0" height="100.0" fill="#fde725"/>
<rect x="607.0" y="775.0" width="43.0" height="96.0" fill="#fde725"/>
</svg>
<svg x="779.20" y="313.40" width="213.90" height="213.30" viewBox="0 0 1000 1000" preserveAspectRatio="none">
<rect width="1000" height="1000" fill="#461464"/>
<g>
<rect x="0.0" y="4.2" width="200.4" height="52.2" fill="#8dd649"/>
<rect x="582.7" y="4.2" width="270.6" height="56.0" fill="#8dd649"/>
<rect x="0.0" y="115.3" width="320.7" height="53.7" fill="#8dd649"/>
<rect x="318.3" y="119.1" width="144.2" height="49.9" fill="#26a08a"/>
<rect x="375.8" y="122.9" width="63.7" height="44.5" fill="#8dd649"/>
<rect x="460.1" y="115.3" width="539.9" height="56.0" fill="#8dd649"/>
<rect x="0.0" y="226.4" width="320.7" height="53.7" fill="#8dd649"/>
<rect x="0.0" y="226.4" width="33.4" height="48.4" fill="#26a08a"/>
<rect x="458.6" y="226.4" width="541.4" height="53.7" fill="#8dd649"/>
<rect x="0.0" y="336.0" width="320.7" height="56.0" fill="#8dd649"/>
<rect x="458.6" y="336.0" width="541.4" height="56.0" fill="#8dd649"/>
<rect x="667.0" y="375.8" width="333.0" height="21.6" fill="#2f7f8e88"/>
<rect x="0.0" y="452.4" width="14.2" height="44.5" fill="#26a08a"/>
<rect x="38.6" y="479.3" width="17.7" height="17.7" fill="#2f7f8e"/>
<rect x="80.8" y="444.8" width="113.5" height="56.0" fill="#8dd649"/>
<rect x="191.9" y="444.8" width="63.7" height="56.0" fill="#26a08a"/>
<rect x="582.7" y="444.8" width="270.6" height="56.0" fill="#8dd649"/>
<rect x="0.0" y="557.4" width="320.7" height="46.8" fill="#8dd649"/>
<rect x="458.6" y="557.4" width="541.4" height="48.4" fill="#8dd649"/>
<rect x="0.0" y="665.5" width="328.4" height="57.6" fill="#8dd649"/>
<rect x="458.6" y="665.5" width="541.4" height="57.6" fill="#8dd649"/>
<rect x="0.0" y="775.8" width="328.4" height="52.2" fill="#8dd649"/>
<rect x="99.9" y="812.6" width="228.5" height="17.7" fill="#2f7f8e88"/>
<rect x="458.6" y="775.8" width="541.4" height="54.5" fill="#8dd649"/>
<rect x="0.0" y="886.9" width="202.0" height="50.7" fill="#8dd649"/>
<rect x="199.6" y="886.9" width="52.2" height="50.7" fill="#26a08a"/>
<rect x="582.7" y="886.9" width="262.9" height="56.0" fill="#8dd649"/>
</g>
</svg>
<svg x="1035.00" y="313.40" width="213.90" height="213.30" viewBox="0 0 1000 1000" preserveAspectRatio="none">
<rect width="1000" height="1000" fill="#461464"/>
<g>
<rect x="91.4" y="13.4" width="40.7" height="31.5" fill="#8dd649"/>
<rect x="91.4" y="672.4" width="40.7" height="33.8" fill="#8dd649"/>
<rect x="93.7" y="672.4" width="38.4" height="12.4" fill="#26a08a"/>
<rect x="487.7" y="130.6" width="21.5" height="29.2" fill="#3e4a89"/>
</g>
</svg>
<svg x="1290.90" y="313.40" width="213.90" height="213.30" viewBox="0 0 1000 1000" preserveAspectRatio="none">
<rect width="1000" height="1000" fill="#461464"/>
<g>
<rect x="0.0" y="138.3" width="514.2" height="57.6" fill="#8dd649"/>
<rect x="0.0" y="245.5" width="514.2" height="59.9" fill="#8dd649"/>
<rect x="0.0" y="356.7" width="514.2" height="59.9" fill="#8dd649"/>
<rect x="0.0" y="467.8" width="514.2" height="56.0" fill="#8dd649"/>
<rect x="0.0" y="575.0" width="514.2" height="59.9" fill="#8dd649"/>
<rect x="0.0" y="686.2" width="514.2" height="56.0" fill="#8dd649"/>
<rect x="0.0" y="797.3" width="514.2" height="59.9" fill="#8dd649"/>
<rect x="0.0" y="900.7" width="514.2" height="59.9" fill="#8dd649"/>
<rect x="0.0" y="193.4" width="100.9" height="35.4" fill="#8dd649"/>
<rect x="0.0" y="193.4" width="100.9" height="35.4" fill="#26a08a" filter="url(#mottle)"/>
<rect x="98.5" y="193.4" width="117.4" height="54.5" fill="#26a08a" filter="url(#mottle)"/>
<rect x="0.0" y="226.4" width="85.6" height="21.6" fill="#2f7f8e" filter="url(#mottle)"/>
<rect x="0.0" y="303.0" width="47.2" height="56.0" fill="#8dd649"/>
<rect x="44.8" y="303.0" width="140.4" height="40.7" fill="#8dd649"/>
<rect x="44.8" y="303.0" width="140.4" height="40.7" fill="#26a08a" filter="url(#mottle)"/>
<rect x="67.8" y="333.7" width="56.1" height="25.4" fill="#461464"/>
<rect x="121.5" y="341.3" width="63.7" height="17.7" fill="#2f7f8e" filter="url(#mottle)"/>
<rect x="121.5" y="356.7" width="71.4" height="48.4" fill="#461464"/>
<rect x="121.5" y="398.8" width="71.4" height="17.7" fill="#2f7f8e" filter="url(#mottle)"/>
<rect x="0.0" y="414.1" width="39.5" height="56.0" fill="#26a08a" filter="url(#mottle)"/>
<rect x="37.1" y="414.1" width="79.1" height="56.0" fill="#2f7f8e" filter="url(#mottle)"/>
<rect x="55.5" y="433.3" width="48.4" height="33.1" fill="#461464"/>
<rect x="0.0" y="521.4" width="162.2" height="56.0" fill="#8dd649"/>
<rect x="159.8" y="521.4" width="56.1" height="56.0" fill="#8dd649"/>
<rect x="159.8" y="521.4" width="56.1" height="56.0" fill="#26a08a" filter="url(#mottle)"/>
<rect x="0.0" y="586.5" width="57.9" height="79.0" fill="#8dd649"/>
<rect x="0.0" y="586.5" width="57.9" height="79.0" fill="#26a08a" filter="url(#mottle)"/>
<rect x="55.5" y="613.4" width="145.0" height="40.7" fill="#8dd649"/>
<rect x="55.5" y="613.4" width="145.0" height="40.7" fill="#26a08a" filter="url(#mottle)"/>
<rect x="0.0" y="632.5" width="47.2" height="33.1" fill="#26a08a" filter="url(#mottle)"/>
<rect x="0.0" y="663.2" width="185.2" height="25.4" fill="#461464"/>
<rect x="0.0" y="739.8" width="62.5" height="33.1" fill="#8dd649"/>
<rect x="0.0" y="770.4" width="62.5" height="29.2" fill="#26a08a" filter="url(#mottle)"/>
<rect x="60.1" y="739.8" width="125.1" height="59.9" fill="#26a08a" filter="url(#mottle)"/>
<rect x="93.9" y="762.8" width="63.7" height="36.9" fill="#461464"/>
<rect x="0.0" y="854.7" width="162.2" height="48.4" fill="#8dd649"/>
<rect x="159.8" y="854.7" width="40.7" height="48.4" fill="#8dd649"/>
<rect x="159.8" y="854.7" width="40.7" height="48.4" fill="#26a08a" filter="url(#mottle)"/>
<rect x="0.0" y="958.2" width="188.3" height="15.4" fill="#2f7f8e" filter="url(#mottle)"/>
<rect x="0.0" y="4.2" width="85.6" height="102.0" fill="#8dd649"/>
<rect x="0.0" y="88.5" width="85.6" height="25.4" fill="#8dd649"/>
<rect x="0.0" y="88.5" width="85.6" height="25.4" fill="#26a08a" filter="url(#mottle)"/>
<rect x="83.2" y="11.8" width="266.2" height="117.3" fill="#26a08a" filter="url(#mottle)"/>
<rect x="170.6" y="27.2" width="79.1" height="63.7" fill="#461464"/>
<rect x="270.3" y="57.8" width="71.4" height="59.9" fill="#461464"/>
<rect x="132.2" y="80.8" width="48.4" height="48.4" fill="#461464"/>
<rect x="347.0" y="88.5" width="94.4" height="52.2" fill="#8dd649"/>
<rect x="439.0" y="103.8" width="71.4" height="36.9" fill="#26a08a" filter="url(#mottle)"/>
<rect x="377.6" y="46.3" width="36.9" height="44.5" fill="#26a08a" filter="url(#mottle)"/>
<rect x="93.9" y="19.5" width="56.1" height="48.4" fill="#8dd649"/>
<rect x="0.0" y="119.1" width="88.6" height="21.6" fill="#2f7f8e" filter="url(#mottle)"/>
<rect x="588.5" y="249.4" width="411.5" height="56.0" fill="#8dd649"/>
<rect x="588.5" y="463.9" width="411.5" height="52.2" fill="#8dd649"/>
<rect x="584.7" y="686.2" width="415.3" height="56.0" fill="#8dd649"/>
<rect x="584.7" y="900.7" width="415.3" height="59.9" fill="#8dd649"/>
<rect x="788.7" y="356.7" width="211.3" height="59.9" fill="#8dd649"/>
<rect x="788.7" y="575.0" width="211.3" height="59.9" fill="#8dd649"/>
<rect x="788.7" y="801.1" width="211.3" height="56.0" fill="#8dd649"/>
<rect x="742.7" y="356.7" width="48.4" height="59.9" fill="#26a08a" filter="url(#mottle)"/>
<rect x="742.7" y="575.0" width="48.4" height="59.9" fill="#26a08a" filter="url(#mottle)"/>
<rect x="742.7" y="801.1" width="48.4" height="56.0" fill="#26a08a" filter="url(#mottle)"/>
<rect x="742.7" y="303.0" width="63.7" height="56.0" fill="#26a08a" filter="url(#mottle)"/>
<rect x="742.7" y="414.1" width="71.4" height="52.2" fill="#26a08a" filter="url(#mottle)"/>
<rect x="742.7" y="513.7" width="71.4" height="63.7" fill="#2f7f8e" filter="url(#mottle)"/>
<rect x="742.7" y="632.5" width="71.4" height="56.0" fill="#26a08a" filter="url(#mottle)"/>
<rect x="742.7" y="854.7" width="79.1" height="48.4" fill="#26a08a" filter="url(#mottle)"/>
<rect x="742.7" y="958.2" width="63.7" height="29.2" fill="#2f7f8e" filter="url(#mottle)"/>
<rect x="592.4" y="42.5" width="155.8" height="151.8" fill="#8dd649"/>
<rect x="600.0" y="103.8" width="140.4" height="125.0" fill="#8dd649"/>
<rect x="600.0" y="103.8" width="140.4" height="125.0" fill="#26a08a" filter="url(#mottle)"/>
<rect x="634.5" y="96.1" width="52.2" height="33.1" fill="#461464"/>
<rect x="699.7" y="149.8" width="48.4" height="56.0" fill="#461464"/>
<rect x="592.4" y="203.4" width="56.1" height="48.4" fill="#26a08a" filter="url(#mottle)"/>
<rect x="592.4" y="303.0" width="152.7" height="56.0" fill="#8dd649"/>
<rect x="699.7" y="303.0" width="45.3" height="94.4" fill="#8dd649"/>
<rect x="699.7" y="303.0" width="45.3" height="94.4" fill="#26a08a" filter="url(#mottle)"/>
<rect x="592.4" y="356.7" width="109.8" height="44.5" fill="#8dd649"/>
<rect x="592.4" y="398.8" width="109.8" height="67.5" fill="#461464"/>
<rect x="676.7" y="356.7" width="68.4" height="109.7" fill="#26a08a" filter="url(#mottle)"/>
<rect x="592.4" y="513.7" width="152.7" height="63.7" fill="#8dd649"/>
<rect x="730.4" y="509.9" width="14.7" height="67.5" fill="#26a08a" filter="url(#mottle)"/>
<rect x="592.4" y="575.0" width="48.4" height="75.2" fill="#8dd649"/>
<rect x="638.4" y="571.2" width="106.7" height="94.4" fill="#8dd649"/>
<rect x="638.4" y="571.2" width="106.7" height="94.4" fill="#26a08a" filter="url(#mottle)"/>
<rect x="684.4" y="609.5" width="48.4" height="40.7" fill="#461464"/>
<rect x="600.0" y="647.8" width="48.4" height="40.7" fill="#26a08a" filter="url(#mottle)"/>
<rect x="646.0" y="663.2" width="71.4" height="25.4" fill="#461464"/>
<rect x="554.0" y="732.1" width="194.1" height="40.7" fill="#26a08a" filter="url(#mottle)"/>
<rect x="638.4" y="762.8" width="109.8" height="36.9" fill="#461464"/>
<rect x="592.4" y="801.1" width="152.7" height="56.0" fill="#8dd649"/>
<rect x="715.1" y="770.4" width="33.1" height="48.4" fill="#461464"/>
<rect x="742.7" y="50.1" width="63.7" height="40.7" fill="#8dd649"/>
<rect x="880.7" y="50.1" width="94.4" height="140.3" fill="#26a08a" filter="url(#mottle)"/>
<rect x="972.7" y="19.5" width="27.3" height="174.8" fill="#8dd649"/>
<rect x="768.7" y="19.5" width="109.8" height="56.0" fill="#2f7f8e" filter="url(#mottle)"/>
<rect x="807.1" y="126.8" width="71.4" height="63.7" fill="#2f7f8e" filter="url(#mottle)"/>
<rect x="646.0" y="0.0" width="354.0" height="18.1" fill="#26a08a" filter="url(#mottle)"/>
</g>
</svg>
<svg x="1546.90" y="313.40" width="213.90" height="213.30" viewBox="0 0 1000 1000" preserveAspectRatio="none">
<rect width="1000" height="1000" fill="#461464"/>
<g>
<rect x="110.2" y="0.0" width="71.5" height="5.0" fill="#26a08a"/>
</g>
</svg>
<svg x="779.20" y="579.20" width="213.90" height="213.30" viewBox="0 0 1000 1000" preserveAspectRatio="none">
<rect width="1000" height="1000" fill="#460f5f"/>
<g>
<rect x="0.0" y="6.5" width="200.4" height="50.7" fill="#d4e11d"/>
<rect x="582.7" y="6.5" width="270.6" height="50.7" fill="#d4e11d"/>
<rect x="0.0" y="112.2" width="320.7" height="57.6" fill="#d4e11d"/>
<rect x="458.6" y="113.7" width="541.4" height="56.0" fill="#d4e11d"/>
<rect x="0.0" y="224.9" width="320.7" height="52.2" fill="#d4e11d"/>
<rect x="0.0" y="232.5" width="48.7" height="44.5" fill="#26a08a"/>
<rect x="458.6" y="228.7" width="541.4" height="48.4" fill="#d4e11d"/>
<rect x="0.0" y="336.0" width="320.7" height="53.7" fill="#d4e11d"/>
<rect x="458.6" y="337.5" width="541.4" height="52.2" fill="#d4e11d"/>
<rect x="0.0" y="440.9" width="18.1" height="56.8" fill="#d4e11d"/>
<rect x="82.3" y="440.9" width="118.1" height="56.8" fill="#d4e11d"/>
<rect x="582.7" y="449.4" width="270.6" height="48.4" fill="#d4e11d"/>
<rect x="0.0" y="554.4" width="320.7" height="56.0" fill="#d4e11d"/>
<rect x="458.6" y="558.2" width="541.4" height="52.2" fill="#d4e11d"/>
<rect x="0.0" y="665.5" width="328.4" height="56.0" fill="#d4e11d"/>
<rect x="458.6" y="667.8" width="540.3" height="53.7" fill="#d4e11d"/>
<rect x="0.0" y="775.0" width="328.4" height="53.7" fill="#d4e11d"/>
<rect x="0.0" y="811.1" width="83.2" height="17.7" fill="#2f7f8e88"/>
<rect x="458.6" y="776.6" width="541.4" height="52.2" fill="#d4e11d"/>
<rect x="0.0" y="886.2" width="200.4" height="56.0" fill="#d4e11d"/>
<rect x="578.9" y="886.2" width="274.4" height="56.0" fill="#d4e11d"/>
</g>
</svg>
<svg x="1035.00" y="579.20" width="213.90" height="213.30" viewBox="0 0 1000 1000" preserveAspectRatio="none">
<rect width="1000" height="1000" fill="#460f5f"/>
<g>
<rect x="91.4" y="10.3" width="40.7" height="40.7" fill="#d4e11d"/>
<rect x="9.5" y="117.6" width="25.4" height="44.5" fill="#3e4a89"/>
<rect x="32.5" y="117.6" width="107.3" height="44.5" fill="#d4e11d"/>
<rect x="91.4" y="228.7" width="48.3" height="40.7" fill="#d4e11d"/>
<rect x="208.6" y="236.3" width="40.7" height="33.1" fill="#26a08a"/>
<rect x="208.6" y="236.3" width="17.7" height="33.1" fill="#d4e11d"/>
<rect x="31.0" y="342.1" width="101.2" height="38.4" fill="#d4e11d"/>
<rect x="36.3" y="450.9" width="95.8" height="42.2" fill="#26a08a"/>
<rect x="63.1" y="450.9" width="33.0" height="33.1" fill="#d4e11d"/>
<rect x="109.1" y="454.7" width="23.1" height="36.9" fill="#d4e11d"/>
<rect x="36.3" y="562.0" width="33.0" height="36.9" fill="#d4e11d"/>
<rect x="91.4" y="562.0" width="48.3" height="36.9" fill="#d4e11d"/>
<rect x="91.4" y="669.3" width="40.7" height="43.0" fill="#d4e11d"/>
<rect x="91.4" y="699.9" width="40.7" height="12.4" fill="#26a08a"/>
<rect x="47.8" y="780.4" width="33.0" height="33.1" fill="#3e4a8988"/>
<rect x="91.4" y="780.4" width="40.7" height="36.9" fill="#d4e11d"/>
<rect x="34.8" y="887.7" width="103.5" height="36.9" fill="#d4e11d"/>
<rect x="622.1" y="10.3" width="105.8" height="40.7" fill="#d4e11d"/>
<rect x="614.4" y="117.6" width="113.4" height="44.5" fill="url(#gTY)"/>
<rect x="476.6" y="132.9" width="33.0" height="25.4" fill="#2f7f8e"/>
<rect x="645.0" y="228.7" width="82.8" height="40.7" fill="url(#gTY)"/>
<rect x="614.4" y="342.1" width="113.4" height="38.4" fill="url(#gTY)"/>
<rect x="614.4" y="450.9" width="113.4" height="42.2" fill="url(#gBTY)"/>
<rect x="599.1" y="569.7" width="33.0" height="33.1" fill="#d4e11d"/>
<rect x="629.7" y="569.7" width="52.2" height="33.1" fill="#26a08a"/>
<rect x="606.8" y="780.4" width="113.4" height="39.2" fill="url(#gBTY)"/>
<rect x="602.9" y="887.7" width="124.9" height="40.7" fill="url(#gBTY)"/>
</g>
</svg>
<svg x="1290.90" y="579.20" width="213.90" height="213.30" viewBox="0 0 1000 1000" preserveAspectRatio="none">
<rect width="1000" height="1000" fill="#460f5f"/>
<g>
<rect x="5.7" y="0.0" width="105.9" height="963.6" fill="#d4e11d"/>
<rect x="105.4" y="6.5" width="40.7" height="224.8" fill="#26a08a" filter="url(#mottle)"/>
<rect x="5.7" y="219.7" width="105.9" height="28.5" fill="#26a08a" filter="url(#mottle)"/>
<rect x="0.0" y="957.4" width="119.3" height="42.6" fill="#26a08a" filter="url(#mottle)"/>
<rect x="24.9" y="965.1" width="71.4" height="34.9" fill="#460f5f"/>
<rect x="0.0" y="0.0" width="8.1" height="1000.0" fill="#460f5f"/>
<rect x="143.0" y="2.6" width="229.4" height="44.6" fill="#2f7f8e" filter="url(#mottle)"/>
<rect x="236.5" y="62.5" width="110.5" height="42.3" fill="#2f7f8e" filter="url(#mottle)"/>
<rect x="197.4" y="125.3" width="316.8" height="61.4" fill="#d4e11d"/>
<rect x="197.4" y="240.4" width="316.8" height="53.8" fill="#d4e11d"/>
<rect x="197.4" y="351.6" width="316.8" height="54.5" fill="#d4e11d"/>
<rect x="197.4" y="458.9" width="316.8" height="56.1" fill="#d4e11d"/>
<rect x="197.4" y="572.4" width="316.8" height="53.8" fill="#d4e11d"/>
<rect x="197.4" y="679.8" width="316.8" height="53.8" fill="#d4e11d"/>
<rect x="197.4" y="800.2" width="316.8" height="48.4" fill="#d4e11d"/>
<rect x="197.4" y="898.3" width="316.8" height="59.9" fill="#d4e11d"/>
<rect x="113.1" y="466.6" width="90.6" height="48.4" fill="#26a08a" filter="url(#mottle)"/>
<rect x="116.9" y="679.8" width="79.1" height="53.8" fill="#26a08a" filter="url(#mottle)"/>
<rect x="116.9" y="896.0" width="86.8" height="63.7" fill="#26a08a" filter="url(#mottle)"/>
<rect x="589.3" y="38.7" width="46.1" height="940.3" fill="#d4e11d"/>
<rect x="633.0" y="150.6" width="57.6" height="136.6" fill="#d4e11d"/>
<rect x="677.5" y="129.2" width="67.6" height="194.1" fill="#26a08a" filter="url(#mottle)"/>
<rect x="638.4" y="320.9" width="79.1" height="71.4" fill="#2f7f8e" filter="url(#mottle)"/>
<rect x="600.0" y="389.9" width="56.1" height="148.1" fill="#d4e11d"/>
<rect x="653.7" y="405.2" width="56.1" height="109.8" fill="#26a08a" filter="url(#mottle)"/>
<rect x="584.7" y="535.6" width="56.1" height="132.8" fill="#d4e11d"/>
<rect x="638.4" y="558.6" width="79.1" height="109.8" fill="#26a08a" filter="url(#mottle)"/>
<rect x="584.7" y="666.0" width="125.1" height="313.0" fill="#d4e11d"/>
<rect x="707.4" y="735.0" width="40.7" height="33.1" fill="#2f7f8e" filter="url(#mottle)"/>
<rect x="584.7" y="0.0" width="415.3" height="41.1" fill="#26a08a" filter="url(#mottle)"/>
<rect x="685.1" y="0.0" width="125.1" height="12.7" fill="#d4e11d"/>
<rect x="649.1" y="41.7" width="109.0" height="64.5" fill="#2f7f8e" filter="url(#mottle)"/>
<rect x="847.0" y="20.3" width="123.6" height="112.1" fill="#26a08a" filter="url(#mottle)"/>
<rect x="966.6" y="38.7" width="33.4" height="93.7" fill="#d4e11d"/>
<rect x="784.1" y="129.2" width="215.9" height="57.6" fill="#d4e11d"/>
<rect x="784.1" y="248.0" width="215.9" height="46.1" fill="#d4e11d"/>
<rect x="784.1" y="355.4" width="215.9" height="50.7" fill="#d4e11d"/>
<rect x="784.1" y="458.9" width="215.9" height="56.1" fill="#d4e11d"/>
<rect x="784.1" y="572.4" width="215.9" height="53.8" fill="#d4e11d"/>
<rect x="784.1" y="677.5" width="215.9" height="56.1" fill="#d4e11d"/>
<rect x="784.1" y="800.2" width="215.9" height="48.4" fill="#d4e11d"/>
<rect x="784.1" y="898.3" width="215.9" height="59.9" fill="#d4e11d"/>
</g>
</svg>
<svg x="1546.90" y="579.20" width="213.90" height="213.30" viewBox="0 0 1000 1000" preserveAspectRatio="none">
<rect width="1000" height="1000" fill="#460f5f"/>
<g>
<rect x="31.8" y="248.2" width="43.9" height="40.8" fill="#d4e11d"/>
<rect x="31.8" y="248.2" width="43.9" height="10.8" fill="#26a08a"/>
<rect x="31.8" y="309.6" width="43.9" height="35.4" fill="#26a08a"/>
<rect x="31.8" y="539.9" width="52.3" height="33.1" fill="#d4e11d"/>
<rect x="56.4" y="543.7" width="27.7" height="29.3" fill="#26a08a"/>
<rect x="31.8" y="570.6" width="43.9" height="48.4" fill="#2f7f8e"/>
<rect x="52.6" y="800.8" width="25.4" height="29.3" fill="#3e4a89"/>
<rect x="110.2" y="0.0" width="71.5" height="5.0" fill="#26a08a"/>
</g>
</svg>
<svg x="779.20" y="844.90" width="213.90" height="213.30" viewBox="0 0 1000 1000" preserveAspectRatio="none">
<rect width="1000" height="1000" fill="#460c5d"/>
<g>
<rect x="0.0" y="6.5" width="200.4" height="50.7" fill="#d5e21a"/>
<rect x="573.5" y="6.5" width="279.8" height="50.7" fill="#d5e21a"/>
<rect x="0.0" y="113.7" width="320.7" height="56.0" fill="#d5e21a"/>
<rect x="458.6" y="115.3" width="541.4" height="54.5" fill="#d5e21a"/>
<rect x="0.0" y="228.7" width="320.7" height="48.4" fill="#d5e21a"/>
<rect x="458.6" y="228.7" width="541.4" height="48.4" fill="#d5e21a"/>
<rect x="0.0" y="336.0" width="320.7" height="53.7" fill="#d5e21a"/>
<rect x="458.6" y="337.5" width="541.4" height="52.2" fill="#d5e21a"/>
<rect x="804.9" y="385.8" width="195.1" height="12.4" fill="#2f7f8e88"/>
<rect x="0.0" y="441.7" width="21.9" height="56.0" fill="#d5e21a"/>
<rect x="82.3" y="441.7" width="118.1" height="56.0" fill="#d5e21a"/>
<rect x="573.5" y="449.4" width="279.8" height="48.4" fill="#d5e21a"/>
<rect x="736.0" y="495.4" width="117.3" height="11.6" fill="#2f7f8e88"/>
<rect x="0.0" y="558.2" width="320.7" height="52.2" fill="#d5e21a"/>
<rect x="458.6" y="562.0" width="541.4" height="48.4" fill="#d5e21a"/>
<rect x="0.0" y="669.3" width="320.7" height="52.2" fill="#d5e21a"/>
<rect x="458.6" y="669.3" width="541.4" height="52.2" fill="#d5e21a"/>
<rect x="0.0" y="776.6" width="33.4" height="52.2" fill="#26a08a"/>
<rect x="82.3" y="776.6" width="246.1" height="52.2" fill="#d5e21a"/>
<rect x="458.6" y="780.4" width="541.4" height="48.4" fill="#d5e21a"/>
<rect x="0.0" y="886.2" width="200.4" height="56.0" fill="#d5e21a"/>
<rect x="573.5" y="886.2" width="272.1" height="56.0" fill="#d5e21a"/>
</g>
</svg>
<svg x="1035.00" y="844.90" width="213.90" height="213.30" viewBox="0 0 1000 1000" preserveAspectRatio="none">
<rect width="1000" height="1000" fill="#460c5d"/>
<g>
<rect x="83.8" y="10.3" width="56.0" height="40.7" fill="#d5e21a"/>
<rect x="31.0" y="117.6" width="101.2" height="43.0" fill="#d5e21a"/>
<rect x="91.4" y="228.7" width="48.3" height="40.7" fill="#d5e21a"/>
<rect x="31.0" y="342.1" width="101.2" height="38.4" fill="#d5e21a"/>
<rect x="34.8" y="449.4" width="97.3" height="43.8" fill="#d5e21a"/>
<rect x="34.8" y="449.4" width="97.3" height="11.6" fill="#26a08a"/>
<rect x="38.6" y="562.0" width="33.0" height="29.2" fill="#26a08a"/>
<rect x="44.0" y="564.3" width="21.5" height="19.3" fill="#d5e21a"/>
<rect x="91.4" y="562.0" width="48.3" height="38.4" fill="#d5e21a"/>
<rect x="91.4" y="669.3" width="40.7" height="43.0" fill="#d5e21a"/>
<rect x="42.4" y="780.4" width="89.7" height="39.2" fill="#d5e21a"/>
<rect x="42.4" y="809.5" width="89.7" height="10.1" fill="#26a08a"/>
<rect x="29.4" y="887.7" width="102.7" height="36.9" fill="#d5e21a"/>
<rect x="622.1" y="10.3" width="99.6" height="40.7" fill="#d5e21a"/>
<rect x="614.4" y="117.6" width="107.3" height="43.0" fill="#d5e21a"/>
<rect x="614.4" y="228.7" width="115.0" height="40.7" fill="#d5e21a"/>
<rect x="622.1" y="342.1" width="92.0" height="38.4" fill="#d5e21a"/>
<rect x="614.4" y="449.4" width="115.0" height="43.8" fill="#d5e21a"/>
<rect x="614.4" y="449.4" width="115.0" height="10.1" fill="#26a08a"/>
<rect x="600.6" y="562.0" width="121.1" height="38.4" fill="#d5e21a"/>
<rect x="600.6" y="562.0" width="121.1" height="10.1" fill="#26a08a"/>
<rect x="625.9" y="669.3" width="95.8" height="43.0" fill="url(#gBTY)"/>
<rect x="614.4" y="780.4" width="99.6" height="39.2" fill="#d5e21a"/>
<rect x="614.4" y="887.7" width="115.0" height="44.5" fill="#d5e21a"/>
<rect x="614.4" y="887.7" width="13.9" height="44.5" fill="#26a08a"/>
<rect x="614.4" y="922.2" width="115.0" height="10.1" fill="#26a08a"/>
</g>
</svg>
<svg x="1290.90" y="844.90" width="213.90" height="213.30" viewBox="0 0 1000 1000" preserveAspectRatio="none">
<rect width="1000" height="1000" fill="#460c5d"/>
<g>
<rect x="9.5" y="0.0" width="109.8" height="1000.0" fill="#d5e21a"/>
<rect x="113.1" y="0.0" width="52.2" height="24.2" fill="#26a08a"/>
<rect x="590.8" y="0.0" width="115.1" height="1000.0" fill="#d5e21a"/>
<rect x="680.5" y="14.1" width="29.2" height="94.4" fill="#26a08acc"/>
<rect x="672.9" y="324.7" width="36.9" height="36.9" fill="#26a08a"/>
<rect x="649.9" y="547.1" width="56.1" height="90.6" fill="#26a08acc"/>
<rect x="201.3" y="125.3" width="313.0" height="61.4" fill="#d5e21a"/>
<rect x="201.3" y="238.8" width="313.0" height="55.3" fill="#d5e21a"/>
<rect x="201.3" y="347.7" width="313.0" height="58.4" fill="#d5e21a"/>
<rect x="201.3" y="458.9" width="313.0" height="56.1" fill="#d5e21a"/>
<rect x="201.3" y="570.1" width="313.0" height="56.1" fill="#d5e21a"/>
<rect x="201.3" y="679.8" width="313.0" height="53.8" fill="#d5e21a"/>
<rect x="201.3" y="792.5" width="313.0" height="56.1" fill="#d5e21a"/>
<rect x="201.3" y="898.3" width="313.0" height="59.9" fill="#d5e21a"/>
<rect x="787.9" y="125.3" width="212.1" height="61.4" fill="#d5e21a"/>
<rect x="787.9" y="238.8" width="212.1" height="55.3" fill="#d5e21a"/>
<rect x="787.9" y="347.7" width="212.1" height="58.4" fill="#d5e21a"/>
<rect x="787.9" y="458.9" width="212.1" height="56.1" fill="#d5e21a"/>
<rect x="787.9" y="570.1" width="212.1" height="56.1" fill="#d5e21a"/>
<rect x="787.9" y="679.8" width="212.1" height="53.8" fill="#d5e21a"/>
<rect x="787.9" y="792.5" width="212.1" height="56.1" fill="#d5e21a"/>
<rect x="787.9" y="898.3" width="212.1" height="59.9" fill="#d5e21a"/>
</g>
</svg>
<svg x="1546.90" y="844.90" width="213.90" height="213.30" viewBox="0 0 1000 1000" preserveAspectRatio="none">
<rect width="1000" height="1000" fill="#460c5d"/>
<g>
<rect x="31.8" y="248.2" width="43.9" height="98.3" fill="#d5e21a"/>
<rect x="31.8" y="313.5" width="11.6" height="33.1" fill="#26a08a"/>
<rect x="31.8" y="529.9" width="52.3" height="99.1" fill="#d5e21a"/>
<rect x="73.3" y="536.0" width="10.8" height="63.8" fill="#26a08a"/>
<rect x="39.5" y="808.5" width="44.6" height="93.0" fill="#d5e21a"/>
<rect x="70.2" y="858.4" width="13.9" height="43.1" fill="#26a08a"/>
<rect x="597.9" y="41.0" width="37.0" height="96.8" fill="url(#gYTv)"/>
<rect x="597.9" y="286.6" width="37.0" height="98.3" fill="#d5e21a"/>
<rect x="597.9" y="332.6" width="37.0" height="29.3" fill="#26a08a"/>
<rect x="597.9" y="539.9" width="37.0" height="36.9" fill="#d5e21a"/>
<rect x="597.9" y="574.4" width="37.0" height="52.3" fill="#2f7f8e"/>
<rect x="597.9" y="589.7" width="37.0" height="13.9" fill="#d5e21a"/>
<rect x="597.9" y="783.1" width="37.0" height="96.8" fill="url(#gYTv)"/>
</g>
</svg>
<svg x="779.20" y="1108.00" width="213.90" height="213.30" viewBox="0 0 1000 1000" preserveAspectRatio="none">
<rect width="1000" height="1000" fill="#460a5c"/>
<g>
<rect x="0.0" y="4.9" width="200.4" height="52.2" fill="#d5e21a"/>
<rect x="573.5" y="4.9" width="279.8" height="52.2" fill="#d5e21a"/>
<rect x="0.0" y="113.7" width="320.7" height="56.0" fill="#d5e21a"/>
<rect x="458.6" y="115.3" width="541.4" height="54.5" fill="#d5e21a"/>
<rect x="0.0" y="228.7" width="320.7" height="49.9" fill="#d5e21a"/>
<rect x="19.5" y="228.7" width="25.4" height="49.9" fill="#26a08a"/>
<rect x="138.3" y="232.5" width="17.7" height="46.1" fill="#26a08a"/>
<rect x="458.6" y="228.7" width="541.4" height="49.9" fill="#d5e21a"/>
<rect x="766.6" y="274.7" width="233.4" height="11.6" fill="#2f7f8e88"/>
<rect x="0.0" y="337.5" width="320.7" height="52.2" fill="#d5e21a"/>
<rect x="458.6" y="337.5" width="541.4" height="52.2" fill="#d5e21a"/>
<rect x="766.6" y="387.3" width="109.7" height="10.8" fill="#2f7f8e88"/>
<rect x="0.0" y="441.7" width="21.9" height="56.0" fill="#d5e21a"/>
<rect x="82.3" y="441.7" width="118.1" height="56.0" fill="#d5e21a"/>
<rect x="573.5" y="449.4" width="279.8" height="48.4" fill="#d5e21a"/>
<rect x="0.0" y="555.9" width="320.7" height="54.5" fill="#d5e21a"/>
<rect x="458.6" y="562.0" width="541.4" height="48.4" fill="#d5e21a"/>
<rect x="0.0" y="669.3" width="324.6" height="53.7" fill="#d5e21a"/>
<rect x="458.6" y="669.3" width="541.4" height="53.7" fill="#d5e21a"/>
<rect x="766.6" y="719.1" width="233.4" height="11.6" fill="#2f7f8e88"/>
<rect x="0.0" y="776.6" width="29.6" height="52.2" fill="#26a08a"/>
<rect x="82.3" y="776.6" width="246.1" height="52.2" fill="#d5e21a"/>
<rect x="458.6" y="780.4" width="541.4" height="48.4" fill="#d5e21a"/>
<rect x="0.0" y="886.2" width="200.4" height="56.0" fill="#d5e21a"/>
<rect x="573.5" y="886.2" width="272.1" height="56.0" fill="#d5e21a"/>
</g>
</svg>
<svg x="1035.00" y="1108.00" width="213.90" height="213.30" viewBox="0 0 1000 1000" preserveAspectRatio="none">
<rect width="1000" height="1000" fill="#460a5c"/>
<g>
<rect x="83.8" y="10.3" width="56.0" height="40.7" fill="#d5e21a"/>
<rect x="32.5" y="117.6" width="105.8" height="43.0" fill="#d5e21a"/>
<rect x="91.4" y="228.7" width="48.3" height="40.7" fill="#d5e21a"/>
<rect x="208.6" y="240.2" width="25.4" height="25.4" fill="#3e4a89"/>
<rect x="34.8" y="342.1" width="97.3" height="38.4" fill="#d5e21a"/>
<rect x="34.8" y="449.4" width="97.3" height="43.8" fill="#d5e21a"/>
<rect x="34.8" y="449.4" width="97.3" height="11.6" fill="#26a08a"/>
<rect x="42.4" y="562.0" width="26.9" height="29.2" fill="#26a08a"/>
<rect x="91.4" y="562.0" width="48.3" height="38.4" fill="#d5e21a"/>
<rect x="44.0" y="677.0" width="25.4" height="29.2" fill="#3e4a89"/>
<rect x="91.4" y="669.3" width="48.3" height="43.0" fill="#d5e21a"/>
<rect x="44.0" y="780.4" width="95.8" height="39.2" fill="#d5e21a"/>
<rect x="44.0" y="809.5" width="95.8" height="10.1" fill="#26a08a"/>
<rect x="29.4" y="887.7" width="110.4" height="36.9" fill="#d5e21a"/>
<rect x="624.4" y="10.3" width="97.3" height="40.7" fill="#d5e21a"/>
<rect x="614.4" y="117.6" width="107.3" height="43.0" fill="#d5e21a"/>
<rect x="614.4" y="228.7" width="115.0" height="40.7" fill="#d5e21a"/>
<rect x="622.1" y="342.1" width="99.6" height="38.4" fill="#d5e21a"/>
<rect x="614.4" y="449.4" width="115.0" height="43.8" fill="#d5e21a"/>
<rect x="600.6" y="562.0" width="128.7" height="38.4" fill="#d5e21a"/>
<rect x="600.6" y="562.0" width="128.7" height="10.1" fill="#26a08a"/>
<rect x="618.2" y="669.3" width="103.5" height="43.0" fill="url(#gBTY)"/>
<rect x="614.4" y="780.4" width="107.3" height="39.2" fill="#d5e21a"/>
<rect x="614.4" y="887.7" width="115.0" height="44.5" fill="#d5e21a"/>
<rect x="614.4" y="922.2" width="115.0" height="10.1" fill="#26a08a"/>
</g>
</svg>
<svg x="1290.90" y="1108.00" width="213.90" height="213.30" viewBox="0 0 1000 1000" preserveAspectRatio="none">
<rect width="1000" height="1000" fill="#460a5c"/>
<g>
<rect x="9.5" y="0.0" width="109.8" height="1000.0" fill="#d5e21a"/>
<rect x="116.9" y="0.0" width="56.1" height="24.2" fill="#26a08a"/>
<rect x="590.8" y="0.0" width="117.4" height="1000.0" fill="#d5e21a"/>
<rect x="634.5" y="613.8" width="63.7" height="28.5" fill="#26a08a99"/>
<rect x="684.4" y="14.1" width="25.4" height="40.7" fill="#26a08a"/>
<rect x="199.7" y="125.3" width="314.5" height="61.4" fill="#d5e21a"/>
<rect x="199.7" y="238.8" width="314.5" height="55.3" fill="#d5e21a"/>
<rect x="199.7" y="347.7" width="314.5" height="58.4" fill="#d5e21a"/>
<rect x="199.7" y="458.9" width="314.5" height="56.1" fill="#d5e21a"/>
<rect x="199.7" y="570.1" width="314.5" height="56.1" fill="#d5e21a"/>
<rect x="199.7" y="679.8" width="314.5" height="53.8" fill="#d5e21a"/>
<rect x="199.7" y="792.5" width="314.5" height="56.1" fill="#d5e21a"/>
<rect x="199.7" y="898.3" width="314.5" height="59.9" fill="#d5e21a"/>
<rect x="787.9" y="125.3" width="212.1" height="61.4" fill="#d5e21a"/>
<rect x="787.9" y="238.8" width="212.1" height="55.3" fill="#d5e21a"/>
<rect x="787.9" y="347.7" width="212.1" height="58.4" fill="#d5e21a"/>
<rect x="787.9" y="458.9" width="212.1" height="56.1" fill="#d5e21a"/>
<rect x="787.9" y="570.1" width="212.1" height="56.1" fill="#d5e21a"/>
<rect x="787.9" y="679.8" width="212.1" height="53.8" fill="#d5e21a"/>
<rect x="787.9" y="792.5" width="212.1" height="56.1" fill="#d5e21a"/>
<rect x="787.9" y="898.3" width="212.1" height="59.9" fill="#d5e21a"/>
</g>
</svg>
<svg x="1546.90" y="1108.00" width="213.90" height="213.30" viewBox="0 0 1000 1000" preserveAspectRatio="none">
<rect width="1000" height="1000" fill="#460a5c"/>
<g>
<rect x="31.8" y="248.2" width="43.9" height="98.3" fill="#d5e21a"/>
<rect x="31.8" y="325.0" width="11.6" height="21.6" fill="#26a08a"/>
<rect x="31.8" y="529.9" width="52.3" height="99.1" fill="#d5e21a"/>
<rect x="73.3" y="529.9" width="10.8" height="69.9" fill="#26a08a"/>
<rect x="31.8" y="529.9" width="43.9" height="10.1" fill="#26a08a"/>
<rect x="39.5" y="810.0" width="44.6" height="91.4" fill="#d5e21a"/>
<rect x="71.8" y="866.0" width="12.4" height="35.4" fill="#26a08a"/>
<rect x="597.9" y="41.0" width="37.0" height="102.2" fill="url(#gYTv)"/>
<rect x="597.9" y="286.6" width="37.0" height="102.2" fill="#d5e21a"/>
<rect x="597.9" y="286.6" width="10.1" height="102.2" fill="#26a08a"/>
<rect x="597.9" y="539.9" width="37.0" height="86.8" fill="#d5e21a"/>
<rect x="597.9" y="783.1" width="37.0" height="96.8" fill="#d5e21a"/>
<rect x="590.2" y="835.3" width="17.8" height="44.6" fill="#26a08a"/>
</g>
</svg>
<defs><linearGradient id="cb58" x1="0" y1="0" x2="0" y2="1"><stop offset="0.00" stop-color="#fde725"/><stop offset="0.10" stop-color="#bddf26"/><stop offset="0.20" stop-color="#7ad151"/><stop offset="0.30" stop-color="#44bf70"/><stop offset="0.40" stop-color="#22a884"/><stop offset="0.50" stop-color="#21918c"/><stop offset="0.60" stop-color="#2a788e"/><stop offset="0.70" stop-color="#355f8d"/><stop offset="0.80" stop-color="#414487"/><stop offset="0.90" stop-color="#482475"/><stop offset="1.00" stop-color="#440154"/></linearGradient></defs>
<rect x="1788.90" y="58.30" width="22.40" height="203.20" fill="url(#cb58)" stroke="#555" stroke-width="0.9"/>
<line x1="1811.30" y1="261.50" x2="1815.30" y2="261.50" stroke="#000" stroke-width="1"/>
<text x="1824.50" y="267.50" class="cbt">0</text>
<line x1="1811.30" y1="230.70" x2="1815.30" y2="230.70" stroke="#000" stroke-width="1"/>
<line x1="1811.30" y1="199.90" x2="1815.30" y2="199.90" stroke="#000" stroke-width="1"/>
<line x1="1811.30" y1="169.10" x2="1815.30" y2="169.10" stroke="#000" stroke-width="1"/>
<text x="1824.50" y="175.10" class="cbt">2.62</text>
<line x1="1811.30" y1="138.30" x2="1815.30" y2="138.30" stroke="#000" stroke-width="1"/>
<line x1="1811.30" y1="107.50" x2="1815.30" y2="107.50" stroke="#000" stroke-width="1"/>
<line x1="1811.30" y1="76.70" x2="1815.30" y2="76.70" stroke="#000" stroke-width="1"/>
<text x="1824.50" y="82.70" class="cbt">5.24</text>
<text transform="translate(1887.0,159.00) rotate(90)" text-anchor="middle" class="cbl">Δ<tspan font-style="italic">n</tspan> (x 10<tspan dy="-8" font-size="14.5">-2</tspan><tspan dy="8">)</tspan></text>
<defs><linearGradient id="cb710" x1="0" y1="0" x2="0" y2="1"><stop offset="0.00" stop-color="#fde725"/><stop offset="0.10" stop-color="#bddf26"/><stop offset="0.20" stop-color="#7ad151"/><stop offset="0.30" stop-color="#44bf70"/><stop offset="0.40" stop-color="#22a884"/><stop offset="0.50" stop-color="#21918c"/><stop offset="0.60" stop-color="#2a788e"/><stop offset="0.70" stop-color="#355f8d"/><stop offset="0.80" stop-color="#414487"/><stop offset="0.90" stop-color="#482475"/><stop offset="1.00" stop-color="#440154"/></linearGradient></defs>
<rect x="1788.90" y="710.20" width="22.40" height="203.30" fill="url(#cb710)" stroke="#555" stroke-width="0.9"/>
<line x1="1811.30" y1="913.00" x2="1815.30" y2="913.00" stroke="#000" stroke-width="1"/>
<text x="1824.50" y="919.00" class="cbt">0</text>
<line x1="1811.30" y1="882.20" x2="1815.30" y2="882.20" stroke="#000" stroke-width="1"/>
<line x1="1811.30" y1="851.40" x2="1815.30" y2="851.40" stroke="#000" stroke-width="1"/>
<line x1="1811.30" y1="820.50" x2="1815.30" y2="820.50" stroke="#000" stroke-width="1"/>
<text x="1824.50" y="826.50" class="cbt">2.53</text>
<line x1="1811.30" y1="789.70" x2="1815.30" y2="789.70" stroke="#000" stroke-width="1"/>
<line x1="1811.30" y1="758.90" x2="1815.30" y2="758.90" stroke="#000" stroke-width="1"/>
<line x1="1811.30" y1="728.00" x2="1815.30" y2="728.00" stroke="#000" stroke-width="1"/>
<text x="1824.50" y="734.00" class="cbt">5.06</text>
<text transform="translate(1887.0,811.00) rotate(90)" text-anchor="middle" class="cbl">Δ<tspan font-style="italic">n</tspan> (x 10<tspan dy="-8" font-size="14.5">-2</tspan><tspan dy="8">)</tspan></text>
</svg></body></html>
